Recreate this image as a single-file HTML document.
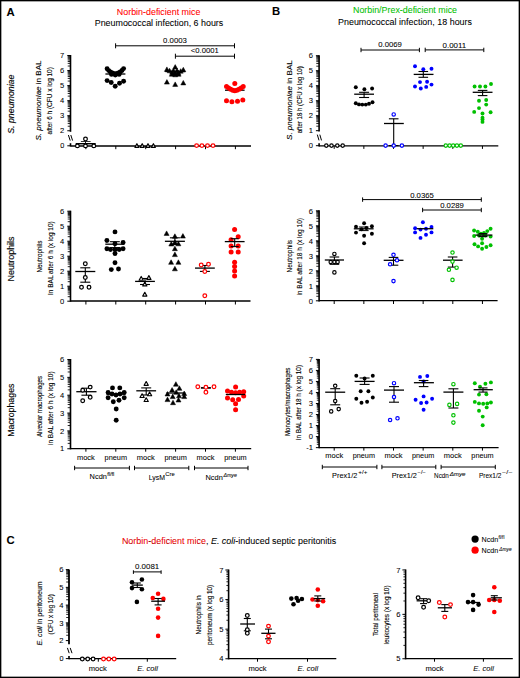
<!DOCTYPE html>
<html><head><meta charset="utf-8"><style>
html,body{margin:0;padding:0;background:#fff;}
svg{display:block;font-family:"Liberation Sans",sans-serif;}
</style></head><body>
<svg width="520" height="678" viewBox="0 0 520 678">
<rect width="520" height="678" fill="#fff"/>
<rect x="0" y="0" width="520" height="1" fill="#000"/>
<rect x="0" y="1" width="520" height="1" fill="#000" fill-opacity="0.35"/>
<rect x="0" y="0" width="1" height="678" fill="#000"/>
<rect x="1" y="0" width="1" height="678" fill="#000" fill-opacity="0.35"/>
<rect x="519" y="0" width="1" height="678" fill="#000"/>
<rect x="518" y="0" width="1" height="678" fill="#000" fill-opacity="0.35"/>
<rect x="0" y="677" width="520" height="1" fill="#000"/>
<rect x="0" y="676" width="520" height="1" fill="#000" fill-opacity="0.35"/>
<text x="6.60" y="15.60" font-size="11.3" font-weight="bold" fill="#000" stroke="#000" stroke-width="0.06">A</text>
<text x="272.10" y="14.70" font-size="11.3" font-weight="bold" fill="#000" stroke="#000" stroke-width="0.06">B</text>
<text x="6.60" y="543.60" font-size="11.3" font-weight="bold" fill="#000" stroke="#000" stroke-width="0.06">C</text>
<text x="158.60" y="14.80" font-size="8.9" text-anchor="middle" textLength="83.50" lengthAdjust="spacingAndGlyphs" fill="#ff0000" stroke="#ff0000" stroke-width="0.06">Norbin-deficient mice</text>
<text x="159.00" y="25.60" font-size="8.9" text-anchor="middle" textLength="128.50" lengthAdjust="spacingAndGlyphs" fill="#000" stroke="#000" stroke-width="0.06">Pneumococcal infection, 6 hours</text>
<text x="405.00" y="13.30" font-size="8.9" text-anchor="middle" textLength="104.00" lengthAdjust="spacingAndGlyphs" fill="#00c000" stroke="#00c000" stroke-width="0.06">Norbin/Prex-deficient mice</text>
<text x="405.00" y="24.60" font-size="8.9" text-anchor="middle" textLength="134.00" lengthAdjust="spacingAndGlyphs" fill="#000" stroke="#000" stroke-width="0.06">Pneumococcal infection, 18 hours</text>
<text x="121.90" y="543.50" font-size="8.9" textLength="214.40" lengthAdjust="spacingAndGlyphs" fill="#000" stroke="#000" stroke-width="0.06"><tspan fill="#ff0000">Norbin-deficient mice</tspan>, <tspan font-style="italic">E. coli</tspan>-induced septic peritonitis</text>
<text x="13.90" y="104.20" font-size="8.9" text-anchor="middle" textLength="59.20" lengthAdjust="spacingAndGlyphs" transform="rotate(-90 13.90 104.20)" fill="#000" stroke="#000" stroke-width="0.14"><tspan font-style="italic">S. pneumoniae</tspan></text>
<text x="13.90" y="259.00" font-size="8.9" text-anchor="middle" textLength="45.00" lengthAdjust="spacingAndGlyphs" transform="rotate(-90 13.90 259.00)" fill="#000" stroke="#000" stroke-width="0.14">Neutrophils</text>
<text x="14.00" y="410.20" font-size="8.9" text-anchor="middle" textLength="53.20" lengthAdjust="spacingAndGlyphs" transform="rotate(-90 14.00 410.20)" fill="#000" stroke="#000" stroke-width="0.14">Macrophages</text>
<line x1="70.50" y1="55.00" x2="70.50" y2="131.80" stroke="#000" stroke-width="1.6"/>
<line x1="67.70" y1="126.22" x2="70.50" y2="126.22" stroke="#000" stroke-width="0.85"/>
<line x1="67.70" y1="123.57" x2="70.50" y2="123.57" stroke="#000" stroke-width="0.85"/>
<line x1="67.70" y1="121.69" x2="70.50" y2="121.69" stroke="#000" stroke-width="0.85"/>
<line x1="67.70" y1="120.23" x2="70.50" y2="120.23" stroke="#000" stroke-width="0.85"/>
<line x1="67.70" y1="119.04" x2="70.50" y2="119.04" stroke="#000" stroke-width="0.85"/>
<line x1="67.70" y1="118.03" x2="70.50" y2="118.03" stroke="#000" stroke-width="0.85"/>
<line x1="67.70" y1="117.16" x2="70.50" y2="117.16" stroke="#000" stroke-width="0.85"/>
<line x1="67.70" y1="116.39" x2="70.50" y2="116.39" stroke="#000" stroke-width="0.85"/>
<line x1="67.70" y1="111.17" x2="70.50" y2="111.17" stroke="#000" stroke-width="0.85"/>
<line x1="67.70" y1="108.52" x2="70.50" y2="108.52" stroke="#000" stroke-width="0.85"/>
<line x1="67.70" y1="106.64" x2="70.50" y2="106.64" stroke="#000" stroke-width="0.85"/>
<line x1="67.70" y1="105.18" x2="70.50" y2="105.18" stroke="#000" stroke-width="0.85"/>
<line x1="67.70" y1="103.99" x2="70.50" y2="103.99" stroke="#000" stroke-width="0.85"/>
<line x1="67.70" y1="102.98" x2="70.50" y2="102.98" stroke="#000" stroke-width="0.85"/>
<line x1="67.70" y1="102.11" x2="70.50" y2="102.11" stroke="#000" stroke-width="0.85"/>
<line x1="67.70" y1="101.34" x2="70.50" y2="101.34" stroke="#000" stroke-width="0.85"/>
<line x1="67.70" y1="96.12" x2="70.50" y2="96.12" stroke="#000" stroke-width="0.85"/>
<line x1="67.70" y1="93.47" x2="70.50" y2="93.47" stroke="#000" stroke-width="0.85"/>
<line x1="67.70" y1="91.59" x2="70.50" y2="91.59" stroke="#000" stroke-width="0.85"/>
<line x1="67.70" y1="90.13" x2="70.50" y2="90.13" stroke="#000" stroke-width="0.85"/>
<line x1="67.70" y1="88.94" x2="70.50" y2="88.94" stroke="#000" stroke-width="0.85"/>
<line x1="67.70" y1="87.93" x2="70.50" y2="87.93" stroke="#000" stroke-width="0.85"/>
<line x1="67.70" y1="87.06" x2="70.50" y2="87.06" stroke="#000" stroke-width="0.85"/>
<line x1="67.70" y1="86.29" x2="70.50" y2="86.29" stroke="#000" stroke-width="0.85"/>
<line x1="67.70" y1="81.07" x2="70.50" y2="81.07" stroke="#000" stroke-width="0.85"/>
<line x1="67.70" y1="78.42" x2="70.50" y2="78.42" stroke="#000" stroke-width="0.85"/>
<line x1="67.70" y1="76.54" x2="70.50" y2="76.54" stroke="#000" stroke-width="0.85"/>
<line x1="67.70" y1="75.08" x2="70.50" y2="75.08" stroke="#000" stroke-width="0.85"/>
<line x1="67.70" y1="73.89" x2="70.50" y2="73.89" stroke="#000" stroke-width="0.85"/>
<line x1="67.70" y1="72.88" x2="70.50" y2="72.88" stroke="#000" stroke-width="0.85"/>
<line x1="67.70" y1="72.01" x2="70.50" y2="72.01" stroke="#000" stroke-width="0.85"/>
<line x1="67.70" y1="71.24" x2="70.50" y2="71.24" stroke="#000" stroke-width="0.85"/>
<line x1="67.70" y1="66.02" x2="70.50" y2="66.02" stroke="#000" stroke-width="0.85"/>
<line x1="67.70" y1="63.37" x2="70.50" y2="63.37" stroke="#000" stroke-width="0.85"/>
<line x1="67.70" y1="61.49" x2="70.50" y2="61.49" stroke="#000" stroke-width="0.85"/>
<line x1="67.70" y1="60.03" x2="70.50" y2="60.03" stroke="#000" stroke-width="0.85"/>
<line x1="67.70" y1="58.84" x2="70.50" y2="58.84" stroke="#000" stroke-width="0.85"/>
<line x1="67.70" y1="57.83" x2="70.50" y2="57.83" stroke="#000" stroke-width="0.85"/>
<line x1="67.70" y1="56.96" x2="70.50" y2="56.96" stroke="#000" stroke-width="0.85"/>
<line x1="67.70" y1="56.19" x2="70.50" y2="56.19" stroke="#000" stroke-width="0.85"/>
<line x1="67.30" y1="130.75" x2="70.50" y2="130.75" stroke="#000" stroke-width="1.0"/>
<line x1="67.30" y1="115.70" x2="70.50" y2="115.70" stroke="#000" stroke-width="1.0"/>
<line x1="67.30" y1="100.65" x2="70.50" y2="100.65" stroke="#000" stroke-width="1.0"/>
<line x1="67.30" y1="85.60" x2="70.50" y2="85.60" stroke="#000" stroke-width="1.0"/>
<line x1="67.30" y1="70.55" x2="70.50" y2="70.55" stroke="#000" stroke-width="1.0"/>
<line x1="67.30" y1="55.50" x2="70.50" y2="55.50" stroke="#000" stroke-width="1.0"/>
<line x1="70.50" y1="143.20" x2="70.50" y2="146.50" stroke="#000" stroke-width="1.6"/>
<line x1="67.30" y1="145.80" x2="70.50" y2="145.80" stroke="#000" stroke-width="1.0"/>
<line x1="68.40" y1="135.00" x2="70.20" y2="140.60" stroke="#000" stroke-width="1.0"/>
<line x1="70.80" y1="135.00" x2="72.60" y2="140.60" stroke="#000" stroke-width="1.0"/>
<text x="64.30" y="133.49" font-size="7.6" text-anchor="end" fill="#000" stroke="#000" stroke-width="0.06">2</text>
<text x="64.30" y="118.44" font-size="7.6" text-anchor="end" fill="#000" stroke="#000" stroke-width="0.06">3</text>
<text x="64.30" y="103.39" font-size="7.6" text-anchor="end" fill="#000" stroke="#000" stroke-width="0.06">4</text>
<text x="64.30" y="88.34" font-size="7.6" text-anchor="end" fill="#000" stroke="#000" stroke-width="0.06">5</text>
<text x="64.30" y="73.29" font-size="7.6" text-anchor="end" fill="#000" stroke="#000" stroke-width="0.06">6</text>
<text x="64.30" y="58.24" font-size="7.6" text-anchor="end" fill="#000" stroke="#000" stroke-width="0.06">7</text>
<text x="64.30" y="148.43" font-size="7.3" text-anchor="end" fill="#000" stroke="#000" stroke-width="0.06">0</text>
<line x1="70.50" y1="146.00" x2="251.00" y2="146.00" stroke="#000" stroke-width="1.3"/>
<line x1="85.90" y1="146.00" x2="85.90" y2="149.20" stroke="#000" stroke-width="1.0"/>
<line x1="115.80" y1="146.00" x2="115.80" y2="149.20" stroke="#000" stroke-width="1.0"/>
<line x1="145.70" y1="146.00" x2="145.70" y2="149.20" stroke="#000" stroke-width="1.0"/>
<line x1="175.60" y1="146.00" x2="175.60" y2="149.20" stroke="#000" stroke-width="1.0"/>
<line x1="205.50" y1="146.00" x2="205.50" y2="149.20" stroke="#000" stroke-width="1.0"/>
<line x1="235.40" y1="146.00" x2="235.40" y2="149.20" stroke="#000" stroke-width="1.0"/>
<text x="41.30" y="100.50" font-size="8.0" text-anchor="middle" textLength="80.00" lengthAdjust="spacingAndGlyphs" transform="rotate(-90 41.30 100.50)" fill="#000" stroke="#000" stroke-width="0.12"><tspan font-style="italic">S. pneumoniae</tspan> in BAL</text>
<text x="52.40" y="100.80" font-size="8.0" text-anchor="middle" textLength="67.30" lengthAdjust="spacingAndGlyphs" transform="rotate(-90 52.40 100.80)" fill="#000" stroke="#000" stroke-width="0.12">after 6 h (CFU x log 10)</text>
<line x1="115.60" y1="45.80" x2="234.50" y2="45.80" stroke="#000" stroke-width="1.0"/>
<line x1="115.60" y1="43.30" x2="115.60" y2="48.30" stroke="#000" stroke-width="1.0"/>
<line x1="234.50" y1="43.30" x2="234.50" y2="48.30" stroke="#000" stroke-width="1.0"/>
<text x="175.00" y="42.60" font-size="7.8" text-anchor="middle" textLength="23.80" lengthAdjust="spacingAndGlyphs" fill="#000" stroke="#000" stroke-width="0.06">0.0003</text>
<line x1="175.40" y1="56.20" x2="234.50" y2="56.20" stroke="#000" stroke-width="1.0"/>
<line x1="175.40" y1="53.70" x2="175.40" y2="58.70" stroke="#000" stroke-width="1.0"/>
<line x1="234.50" y1="53.70" x2="234.50" y2="58.70" stroke="#000" stroke-width="1.0"/>
<text x="204.80" y="53.20" font-size="7.8" text-anchor="middle" textLength="28.00" lengthAdjust="spacingAndGlyphs" fill="#000" stroke="#000" stroke-width="0.06">&lt;0.0001</text>
<line x1="70.50" y1="210.70" x2="70.50" y2="301.80" stroke="#000" stroke-width="1.6"/>
<line x1="67.70" y1="296.68" x2="70.50" y2="296.68" stroke="#000" stroke-width="0.85"/>
<line x1="67.70" y1="294.04" x2="70.50" y2="294.04" stroke="#000" stroke-width="0.85"/>
<line x1="67.70" y1="292.17" x2="70.50" y2="292.17" stroke="#000" stroke-width="0.85"/>
<line x1="67.70" y1="290.72" x2="70.50" y2="290.72" stroke="#000" stroke-width="0.85"/>
<line x1="67.70" y1="289.53" x2="70.50" y2="289.53" stroke="#000" stroke-width="0.85"/>
<line x1="67.70" y1="288.52" x2="70.50" y2="288.52" stroke="#000" stroke-width="0.85"/>
<line x1="67.70" y1="287.65" x2="70.50" y2="287.65" stroke="#000" stroke-width="0.85"/>
<line x1="67.70" y1="286.89" x2="70.50" y2="286.89" stroke="#000" stroke-width="0.85"/>
<line x1="67.70" y1="281.68" x2="70.50" y2="281.68" stroke="#000" stroke-width="0.85"/>
<line x1="67.70" y1="279.04" x2="70.50" y2="279.04" stroke="#000" stroke-width="0.85"/>
<line x1="67.70" y1="277.17" x2="70.50" y2="277.17" stroke="#000" stroke-width="0.85"/>
<line x1="67.70" y1="275.72" x2="70.50" y2="275.72" stroke="#000" stroke-width="0.85"/>
<line x1="67.70" y1="274.53" x2="70.50" y2="274.53" stroke="#000" stroke-width="0.85"/>
<line x1="67.70" y1="273.52" x2="70.50" y2="273.52" stroke="#000" stroke-width="0.85"/>
<line x1="67.70" y1="272.65" x2="70.50" y2="272.65" stroke="#000" stroke-width="0.85"/>
<line x1="67.70" y1="271.89" x2="70.50" y2="271.89" stroke="#000" stroke-width="0.85"/>
<line x1="67.70" y1="266.68" x2="70.50" y2="266.68" stroke="#000" stroke-width="0.85"/>
<line x1="67.70" y1="264.04" x2="70.50" y2="264.04" stroke="#000" stroke-width="0.85"/>
<line x1="67.70" y1="262.17" x2="70.50" y2="262.17" stroke="#000" stroke-width="0.85"/>
<line x1="67.70" y1="260.72" x2="70.50" y2="260.72" stroke="#000" stroke-width="0.85"/>
<line x1="67.70" y1="259.53" x2="70.50" y2="259.53" stroke="#000" stroke-width="0.85"/>
<line x1="67.70" y1="258.52" x2="70.50" y2="258.52" stroke="#000" stroke-width="0.85"/>
<line x1="67.70" y1="257.65" x2="70.50" y2="257.65" stroke="#000" stroke-width="0.85"/>
<line x1="67.70" y1="256.89" x2="70.50" y2="256.89" stroke="#000" stroke-width="0.85"/>
<line x1="67.70" y1="251.68" x2="70.50" y2="251.68" stroke="#000" stroke-width="0.85"/>
<line x1="67.70" y1="249.04" x2="70.50" y2="249.04" stroke="#000" stroke-width="0.85"/>
<line x1="67.70" y1="247.17" x2="70.50" y2="247.17" stroke="#000" stroke-width="0.85"/>
<line x1="67.70" y1="245.72" x2="70.50" y2="245.72" stroke="#000" stroke-width="0.85"/>
<line x1="67.70" y1="244.53" x2="70.50" y2="244.53" stroke="#000" stroke-width="0.85"/>
<line x1="67.70" y1="243.52" x2="70.50" y2="243.52" stroke="#000" stroke-width="0.85"/>
<line x1="67.70" y1="242.65" x2="70.50" y2="242.65" stroke="#000" stroke-width="0.85"/>
<line x1="67.70" y1="241.89" x2="70.50" y2="241.89" stroke="#000" stroke-width="0.85"/>
<line x1="67.70" y1="236.68" x2="70.50" y2="236.68" stroke="#000" stroke-width="0.85"/>
<line x1="67.70" y1="234.04" x2="70.50" y2="234.04" stroke="#000" stroke-width="0.85"/>
<line x1="67.70" y1="232.17" x2="70.50" y2="232.17" stroke="#000" stroke-width="0.85"/>
<line x1="67.70" y1="230.72" x2="70.50" y2="230.72" stroke="#000" stroke-width="0.85"/>
<line x1="67.70" y1="229.53" x2="70.50" y2="229.53" stroke="#000" stroke-width="0.85"/>
<line x1="67.70" y1="228.52" x2="70.50" y2="228.52" stroke="#000" stroke-width="0.85"/>
<line x1="67.70" y1="227.65" x2="70.50" y2="227.65" stroke="#000" stroke-width="0.85"/>
<line x1="67.70" y1="226.89" x2="70.50" y2="226.89" stroke="#000" stroke-width="0.85"/>
<line x1="67.70" y1="221.68" x2="70.50" y2="221.68" stroke="#000" stroke-width="0.85"/>
<line x1="67.70" y1="219.04" x2="70.50" y2="219.04" stroke="#000" stroke-width="0.85"/>
<line x1="67.70" y1="217.17" x2="70.50" y2="217.17" stroke="#000" stroke-width="0.85"/>
<line x1="67.70" y1="215.72" x2="70.50" y2="215.72" stroke="#000" stroke-width="0.85"/>
<line x1="67.70" y1="214.53" x2="70.50" y2="214.53" stroke="#000" stroke-width="0.85"/>
<line x1="67.70" y1="213.52" x2="70.50" y2="213.52" stroke="#000" stroke-width="0.85"/>
<line x1="67.70" y1="212.65" x2="70.50" y2="212.65" stroke="#000" stroke-width="0.85"/>
<line x1="67.70" y1="211.89" x2="70.50" y2="211.89" stroke="#000" stroke-width="0.85"/>
<line x1="67.30" y1="301.20" x2="70.50" y2="301.20" stroke="#000" stroke-width="1.0"/>
<line x1="67.30" y1="286.20" x2="70.50" y2="286.20" stroke="#000" stroke-width="1.0"/>
<line x1="67.30" y1="271.20" x2="70.50" y2="271.20" stroke="#000" stroke-width="1.0"/>
<line x1="67.30" y1="256.20" x2="70.50" y2="256.20" stroke="#000" stroke-width="1.0"/>
<line x1="67.30" y1="241.20" x2="70.50" y2="241.20" stroke="#000" stroke-width="1.0"/>
<line x1="67.30" y1="226.20" x2="70.50" y2="226.20" stroke="#000" stroke-width="1.0"/>
<line x1="67.30" y1="211.20" x2="70.50" y2="211.20" stroke="#000" stroke-width="1.0"/>
<text x="64.30" y="303.94" font-size="7.6" text-anchor="end" fill="#000" stroke="#000" stroke-width="0.06">0</text>
<text x="64.30" y="288.94" font-size="7.6" text-anchor="end" fill="#000" stroke="#000" stroke-width="0.06">1</text>
<text x="64.30" y="273.94" font-size="7.6" text-anchor="end" fill="#000" stroke="#000" stroke-width="0.06">2</text>
<text x="64.30" y="258.94" font-size="7.6" text-anchor="end" fill="#000" stroke="#000" stroke-width="0.06">3</text>
<text x="64.30" y="243.94" font-size="7.6" text-anchor="end" fill="#000" stroke="#000" stroke-width="0.06">4</text>
<text x="64.30" y="228.94" font-size="7.6" text-anchor="end" fill="#000" stroke="#000" stroke-width="0.06">5</text>
<text x="64.30" y="213.94" font-size="7.6" text-anchor="end" fill="#000" stroke="#000" stroke-width="0.06">6</text>
<line x1="70.50" y1="301.00" x2="250.50" y2="301.00" stroke="#000" stroke-width="1.3"/>
<line x1="85.90" y1="301.00" x2="85.90" y2="304.50" stroke="#000" stroke-width="1.0"/>
<line x1="115.80" y1="301.00" x2="115.80" y2="304.50" stroke="#000" stroke-width="1.0"/>
<line x1="145.70" y1="301.00" x2="145.70" y2="304.50" stroke="#000" stroke-width="1.0"/>
<line x1="175.60" y1="301.00" x2="175.60" y2="304.50" stroke="#000" stroke-width="1.0"/>
<line x1="205.50" y1="301.00" x2="205.50" y2="304.50" stroke="#000" stroke-width="1.0"/>
<line x1="235.40" y1="301.00" x2="235.40" y2="304.50" stroke="#000" stroke-width="1.0"/>
<text x="41.50" y="256.50" font-size="8.0" text-anchor="middle" textLength="31.90" lengthAdjust="spacingAndGlyphs" transform="rotate(-90 41.50 256.50)" fill="#000" stroke="#000" stroke-width="0.12">Neutrophils</text>
<text x="53.40" y="258.10" font-size="8.0" text-anchor="middle" textLength="73.70" lengthAdjust="spacingAndGlyphs" transform="rotate(-90 53.40 258.10)" fill="#000" stroke="#000" stroke-width="0.12">In BAL after 6 h (x log 10)</text>
<line x1="70.50" y1="359.00" x2="70.50" y2="449.35" stroke="#000" stroke-width="1.6"/>
<line x1="67.70" y1="443.38" x2="70.50" y2="443.38" stroke="#000" stroke-width="0.85"/>
<line x1="67.70" y1="440.23" x2="70.50" y2="440.23" stroke="#000" stroke-width="0.85"/>
<line x1="67.70" y1="438.00" x2="70.50" y2="438.00" stroke="#000" stroke-width="0.85"/>
<line x1="67.70" y1="436.27" x2="70.50" y2="436.27" stroke="#000" stroke-width="0.85"/>
<line x1="67.70" y1="434.86" x2="70.50" y2="434.86" stroke="#000" stroke-width="0.85"/>
<line x1="67.70" y1="433.66" x2="70.50" y2="433.66" stroke="#000" stroke-width="0.85"/>
<line x1="67.70" y1="432.63" x2="70.50" y2="432.63" stroke="#000" stroke-width="0.85"/>
<line x1="67.70" y1="431.72" x2="70.50" y2="431.72" stroke="#000" stroke-width="0.85"/>
<line x1="67.70" y1="425.53" x2="70.50" y2="425.53" stroke="#000" stroke-width="0.85"/>
<line x1="67.70" y1="422.38" x2="70.50" y2="422.38" stroke="#000" stroke-width="0.85"/>
<line x1="67.70" y1="420.15" x2="70.50" y2="420.15" stroke="#000" stroke-width="0.85"/>
<line x1="67.70" y1="418.42" x2="70.50" y2="418.42" stroke="#000" stroke-width="0.85"/>
<line x1="67.70" y1="417.01" x2="70.50" y2="417.01" stroke="#000" stroke-width="0.85"/>
<line x1="67.70" y1="415.81" x2="70.50" y2="415.81" stroke="#000" stroke-width="0.85"/>
<line x1="67.70" y1="414.78" x2="70.50" y2="414.78" stroke="#000" stroke-width="0.85"/>
<line x1="67.70" y1="413.87" x2="70.50" y2="413.87" stroke="#000" stroke-width="0.85"/>
<line x1="67.70" y1="407.68" x2="70.50" y2="407.68" stroke="#000" stroke-width="0.85"/>
<line x1="67.70" y1="404.53" x2="70.50" y2="404.53" stroke="#000" stroke-width="0.85"/>
<line x1="67.70" y1="402.30" x2="70.50" y2="402.30" stroke="#000" stroke-width="0.85"/>
<line x1="67.70" y1="400.57" x2="70.50" y2="400.57" stroke="#000" stroke-width="0.85"/>
<line x1="67.70" y1="399.16" x2="70.50" y2="399.16" stroke="#000" stroke-width="0.85"/>
<line x1="67.70" y1="397.96" x2="70.50" y2="397.96" stroke="#000" stroke-width="0.85"/>
<line x1="67.70" y1="396.93" x2="70.50" y2="396.93" stroke="#000" stroke-width="0.85"/>
<line x1="67.70" y1="396.02" x2="70.50" y2="396.02" stroke="#000" stroke-width="0.85"/>
<line x1="67.70" y1="389.83" x2="70.50" y2="389.83" stroke="#000" stroke-width="0.85"/>
<line x1="67.70" y1="386.68" x2="70.50" y2="386.68" stroke="#000" stroke-width="0.85"/>
<line x1="67.70" y1="384.45" x2="70.50" y2="384.45" stroke="#000" stroke-width="0.85"/>
<line x1="67.70" y1="382.72" x2="70.50" y2="382.72" stroke="#000" stroke-width="0.85"/>
<line x1="67.70" y1="381.31" x2="70.50" y2="381.31" stroke="#000" stroke-width="0.85"/>
<line x1="67.70" y1="380.11" x2="70.50" y2="380.11" stroke="#000" stroke-width="0.85"/>
<line x1="67.70" y1="379.08" x2="70.50" y2="379.08" stroke="#000" stroke-width="0.85"/>
<line x1="67.70" y1="378.17" x2="70.50" y2="378.17" stroke="#000" stroke-width="0.85"/>
<line x1="67.70" y1="371.98" x2="70.50" y2="371.98" stroke="#000" stroke-width="0.85"/>
<line x1="67.70" y1="368.83" x2="70.50" y2="368.83" stroke="#000" stroke-width="0.85"/>
<line x1="67.70" y1="366.60" x2="70.50" y2="366.60" stroke="#000" stroke-width="0.85"/>
<line x1="67.70" y1="364.87" x2="70.50" y2="364.87" stroke="#000" stroke-width="0.85"/>
<line x1="67.70" y1="363.46" x2="70.50" y2="363.46" stroke="#000" stroke-width="0.85"/>
<line x1="67.70" y1="362.26" x2="70.50" y2="362.26" stroke="#000" stroke-width="0.85"/>
<line x1="67.70" y1="361.23" x2="70.50" y2="361.23" stroke="#000" stroke-width="0.85"/>
<line x1="67.70" y1="360.32" x2="70.50" y2="360.32" stroke="#000" stroke-width="0.85"/>
<line x1="67.30" y1="448.75" x2="70.50" y2="448.75" stroke="#000" stroke-width="1.0"/>
<line x1="67.30" y1="430.90" x2="70.50" y2="430.90" stroke="#000" stroke-width="1.0"/>
<line x1="67.30" y1="413.05" x2="70.50" y2="413.05" stroke="#000" stroke-width="1.0"/>
<line x1="67.30" y1="395.20" x2="70.50" y2="395.20" stroke="#000" stroke-width="1.0"/>
<line x1="67.30" y1="377.35" x2="70.50" y2="377.35" stroke="#000" stroke-width="1.0"/>
<line x1="67.30" y1="359.50" x2="70.50" y2="359.50" stroke="#000" stroke-width="1.0"/>
<text x="64.30" y="451.49" font-size="7.6" text-anchor="end" fill="#000" stroke="#000" stroke-width="0.06">1</text>
<text x="64.30" y="433.64" font-size="7.6" text-anchor="end" fill="#000" stroke="#000" stroke-width="0.06">2</text>
<text x="64.30" y="415.79" font-size="7.6" text-anchor="end" fill="#000" stroke="#000" stroke-width="0.06">3</text>
<text x="64.30" y="397.94" font-size="7.6" text-anchor="end" fill="#000" stroke="#000" stroke-width="0.06">4</text>
<text x="64.30" y="380.09" font-size="7.6" text-anchor="end" fill="#000" stroke="#000" stroke-width="0.06">5</text>
<text x="64.30" y="362.24" font-size="7.6" text-anchor="end" fill="#000" stroke="#000" stroke-width="0.06">6</text>
<line x1="70.50" y1="448.70" x2="251.20" y2="448.70" stroke="#000" stroke-width="1.3"/>
<line x1="85.90" y1="448.70" x2="85.90" y2="451.70" stroke="#000" stroke-width="1.0"/>
<line x1="115.80" y1="448.70" x2="115.80" y2="451.70" stroke="#000" stroke-width="1.0"/>
<line x1="145.70" y1="448.70" x2="145.70" y2="451.70" stroke="#000" stroke-width="1.0"/>
<line x1="175.60" y1="448.70" x2="175.60" y2="451.70" stroke="#000" stroke-width="1.0"/>
<line x1="205.50" y1="448.70" x2="205.50" y2="451.70" stroke="#000" stroke-width="1.0"/>
<line x1="235.40" y1="448.70" x2="235.40" y2="451.70" stroke="#000" stroke-width="1.0"/>
<text x="41.80" y="406.50" font-size="8.0" text-anchor="middle" textLength="61.10" lengthAdjust="spacingAndGlyphs" transform="rotate(-90 41.80 406.50)" fill="#000" stroke="#000" stroke-width="0.12">Alveolar macrophages</text>
<text x="53.40" y="408.20" font-size="8.0" text-anchor="middle" textLength="73.70" lengthAdjust="spacingAndGlyphs" transform="rotate(-90 53.40 408.20)" fill="#000" stroke="#000" stroke-width="0.12">in BAL after 6 h (x log 10)</text>
<text x="85.90" y="459.60" font-size="7.3" text-anchor="middle" textLength="17.90" lengthAdjust="spacingAndGlyphs" fill="#000" stroke="#000" stroke-width="0.06">mock</text>
<text x="115.80" y="459.60" font-size="7.3" text-anchor="middle" textLength="22.40" lengthAdjust="spacingAndGlyphs" fill="#000" stroke="#000" stroke-width="0.06">pneum</text>
<text x="145.70" y="459.60" font-size="7.3" text-anchor="middle" textLength="17.90" lengthAdjust="spacingAndGlyphs" fill="#000" stroke="#000" stroke-width="0.06">mock</text>
<text x="175.60" y="459.60" font-size="7.3" text-anchor="middle" textLength="22.40" lengthAdjust="spacingAndGlyphs" fill="#000" stroke="#000" stroke-width="0.06">pneum</text>
<text x="205.50" y="459.60" font-size="7.3" text-anchor="middle" textLength="17.90" lengthAdjust="spacingAndGlyphs" fill="#000" stroke="#000" stroke-width="0.06">mock</text>
<text x="235.40" y="459.60" font-size="7.3" text-anchor="middle" textLength="22.40" lengthAdjust="spacingAndGlyphs" fill="#000" stroke="#000" stroke-width="0.06">pneum</text>
<line x1="74.60" y1="468.00" x2="129.40" y2="468.00" stroke="#000" stroke-width="1.0"/>
<line x1="74.60" y1="465.80" x2="74.60" y2="470.20" stroke="#000" stroke-width="1.0"/>
<line x1="129.40" y1="465.80" x2="129.40" y2="470.20" stroke="#000" stroke-width="1.0"/>
<line x1="134.50" y1="468.00" x2="188.80" y2="468.00" stroke="#000" stroke-width="1.0"/>
<line x1="134.50" y1="465.80" x2="134.50" y2="470.20" stroke="#000" stroke-width="1.0"/>
<line x1="188.80" y1="465.80" x2="188.80" y2="470.20" stroke="#000" stroke-width="1.0"/>
<line x1="194.50" y1="468.00" x2="248.00" y2="468.00" stroke="#000" stroke-width="1.0"/>
<line x1="194.50" y1="465.80" x2="194.50" y2="470.20" stroke="#000" stroke-width="1.0"/>
<line x1="248.00" y1="465.80" x2="248.00" y2="470.20" stroke="#000" stroke-width="1.0"/>
<text x="89.60" y="479.40" font-size="7.3" textLength="17.30" lengthAdjust="spacingAndGlyphs" fill="#000" stroke="#000" stroke-width="0.06">Ncdn</text>
<text x="107.20" y="475.60" font-size="4.8" textLength="7.20" lengthAdjust="spacingAndGlyphs" fill="#000" stroke="#000" stroke-width="0.06">fl/fl</text>
<text x="148.70" y="479.80" font-size="7.3" textLength="16.30" lengthAdjust="spacingAndGlyphs" fill="#000" stroke="#000" stroke-width="0.06">LysM</text>
<text x="165.20" y="475.60" font-size="4.8" textLength="9.50" lengthAdjust="spacingAndGlyphs" fill="#000" stroke="#000" stroke-width="0.06">Cre</text>
<text x="205.50" y="479.80" font-size="7.3" textLength="17.30" lengthAdjust="spacingAndGlyphs" fill="#000" stroke="#000" stroke-width="0.06">Ncdn</text>
<text x="223.40" y="477.00" font-size="4.6" font-style="italic" textLength="13.50" lengthAdjust="spacingAndGlyphs" fill="#000" stroke="#000" stroke-width="0.06">Δmye</text>
<line x1="319.10" y1="55.20" x2="319.10" y2="131.40" stroke="#000" stroke-width="1.6"/>
<line x1="316.30" y1="126.18" x2="319.10" y2="126.18" stroke="#000" stroke-width="0.85"/>
<line x1="316.30" y1="123.54" x2="319.10" y2="123.54" stroke="#000" stroke-width="0.85"/>
<line x1="316.30" y1="121.67" x2="319.10" y2="121.67" stroke="#000" stroke-width="0.85"/>
<line x1="316.30" y1="120.22" x2="319.10" y2="120.22" stroke="#000" stroke-width="0.85"/>
<line x1="316.30" y1="119.03" x2="319.10" y2="119.03" stroke="#000" stroke-width="0.85"/>
<line x1="316.30" y1="118.02" x2="319.10" y2="118.02" stroke="#000" stroke-width="0.85"/>
<line x1="316.30" y1="117.15" x2="319.10" y2="117.15" stroke="#000" stroke-width="0.85"/>
<line x1="316.30" y1="116.39" x2="319.10" y2="116.39" stroke="#000" stroke-width="0.85"/>
<line x1="316.30" y1="111.18" x2="319.10" y2="111.18" stroke="#000" stroke-width="0.85"/>
<line x1="316.30" y1="108.54" x2="319.10" y2="108.54" stroke="#000" stroke-width="0.85"/>
<line x1="316.30" y1="106.67" x2="319.10" y2="106.67" stroke="#000" stroke-width="0.85"/>
<line x1="316.30" y1="105.22" x2="319.10" y2="105.22" stroke="#000" stroke-width="0.85"/>
<line x1="316.30" y1="104.03" x2="319.10" y2="104.03" stroke="#000" stroke-width="0.85"/>
<line x1="316.30" y1="103.02" x2="319.10" y2="103.02" stroke="#000" stroke-width="0.85"/>
<line x1="316.30" y1="102.15" x2="319.10" y2="102.15" stroke="#000" stroke-width="0.85"/>
<line x1="316.30" y1="101.39" x2="319.10" y2="101.39" stroke="#000" stroke-width="0.85"/>
<line x1="316.30" y1="96.18" x2="319.10" y2="96.18" stroke="#000" stroke-width="0.85"/>
<line x1="316.30" y1="93.54" x2="319.10" y2="93.54" stroke="#000" stroke-width="0.85"/>
<line x1="316.30" y1="91.67" x2="319.10" y2="91.67" stroke="#000" stroke-width="0.85"/>
<line x1="316.30" y1="90.22" x2="319.10" y2="90.22" stroke="#000" stroke-width="0.85"/>
<line x1="316.30" y1="89.03" x2="319.10" y2="89.03" stroke="#000" stroke-width="0.85"/>
<line x1="316.30" y1="88.02" x2="319.10" y2="88.02" stroke="#000" stroke-width="0.85"/>
<line x1="316.30" y1="87.15" x2="319.10" y2="87.15" stroke="#000" stroke-width="0.85"/>
<line x1="316.30" y1="86.39" x2="319.10" y2="86.39" stroke="#000" stroke-width="0.85"/>
<line x1="316.30" y1="81.18" x2="319.10" y2="81.18" stroke="#000" stroke-width="0.85"/>
<line x1="316.30" y1="78.54" x2="319.10" y2="78.54" stroke="#000" stroke-width="0.85"/>
<line x1="316.30" y1="76.67" x2="319.10" y2="76.67" stroke="#000" stroke-width="0.85"/>
<line x1="316.30" y1="75.22" x2="319.10" y2="75.22" stroke="#000" stroke-width="0.85"/>
<line x1="316.30" y1="74.03" x2="319.10" y2="74.03" stroke="#000" stroke-width="0.85"/>
<line x1="316.30" y1="73.02" x2="319.10" y2="73.02" stroke="#000" stroke-width="0.85"/>
<line x1="316.30" y1="72.15" x2="319.10" y2="72.15" stroke="#000" stroke-width="0.85"/>
<line x1="316.30" y1="71.39" x2="319.10" y2="71.39" stroke="#000" stroke-width="0.85"/>
<line x1="316.30" y1="66.18" x2="319.10" y2="66.18" stroke="#000" stroke-width="0.85"/>
<line x1="316.30" y1="63.54" x2="319.10" y2="63.54" stroke="#000" stroke-width="0.85"/>
<line x1="316.30" y1="61.67" x2="319.10" y2="61.67" stroke="#000" stroke-width="0.85"/>
<line x1="316.30" y1="60.22" x2="319.10" y2="60.22" stroke="#000" stroke-width="0.85"/>
<line x1="316.30" y1="59.03" x2="319.10" y2="59.03" stroke="#000" stroke-width="0.85"/>
<line x1="316.30" y1="58.02" x2="319.10" y2="58.02" stroke="#000" stroke-width="0.85"/>
<line x1="316.30" y1="57.15" x2="319.10" y2="57.15" stroke="#000" stroke-width="0.85"/>
<line x1="316.30" y1="56.39" x2="319.10" y2="56.39" stroke="#000" stroke-width="0.85"/>
<line x1="315.90" y1="130.70" x2="319.10" y2="130.70" stroke="#000" stroke-width="1.0"/>
<line x1="315.90" y1="115.70" x2="319.10" y2="115.70" stroke="#000" stroke-width="1.0"/>
<line x1="315.90" y1="100.70" x2="319.10" y2="100.70" stroke="#000" stroke-width="1.0"/>
<line x1="315.90" y1="85.70" x2="319.10" y2="85.70" stroke="#000" stroke-width="1.0"/>
<line x1="315.90" y1="70.70" x2="319.10" y2="70.70" stroke="#000" stroke-width="1.0"/>
<line x1="315.90" y1="55.70" x2="319.10" y2="55.70" stroke="#000" stroke-width="1.0"/>
<line x1="319.10" y1="143.20" x2="319.10" y2="146.40" stroke="#000" stroke-width="1.6"/>
<line x1="315.90" y1="145.70" x2="319.10" y2="145.70" stroke="#000" stroke-width="1.0"/>
<line x1="317.30" y1="134.60" x2="319.00" y2="140.40" stroke="#000" stroke-width="1.0"/>
<line x1="319.80" y1="134.60" x2="321.50" y2="140.40" stroke="#000" stroke-width="1.0"/>
<text x="313.00" y="148.44" font-size="7.6" text-anchor="end" fill="#000" stroke="#000" stroke-width="0.06">0</text>
<text x="313.00" y="133.44" font-size="7.6" text-anchor="end" fill="#000" stroke="#000" stroke-width="0.06">1</text>
<text x="313.00" y="118.44" font-size="7.6" text-anchor="end" fill="#000" stroke="#000" stroke-width="0.06">2</text>
<text x="313.00" y="103.44" font-size="7.6" text-anchor="end" fill="#000" stroke="#000" stroke-width="0.06">3</text>
<text x="313.00" y="88.44" font-size="7.6" text-anchor="end" fill="#000" stroke="#000" stroke-width="0.06">4</text>
<text x="313.00" y="73.44" font-size="7.6" text-anchor="end" fill="#000" stroke="#000" stroke-width="0.06">5</text>
<text x="313.00" y="58.44" font-size="7.6" text-anchor="end" fill="#000" stroke="#000" stroke-width="0.06">6</text>
<line x1="319.10" y1="145.90" x2="498.30" y2="145.90" stroke="#000" stroke-width="1.3"/>
<line x1="334.20" y1="145.90" x2="334.20" y2="148.90" stroke="#000" stroke-width="1.0"/>
<line x1="363.85" y1="145.90" x2="363.85" y2="148.90" stroke="#000" stroke-width="1.0"/>
<line x1="393.50" y1="145.90" x2="393.50" y2="148.90" stroke="#000" stroke-width="1.0"/>
<line x1="423.15" y1="145.90" x2="423.15" y2="148.90" stroke="#000" stroke-width="1.0"/>
<line x1="452.80" y1="145.90" x2="452.80" y2="148.90" stroke="#000" stroke-width="1.0"/>
<line x1="482.45" y1="145.90" x2="482.45" y2="148.90" stroke="#000" stroke-width="1.0"/>
<text x="292.00" y="100.10" font-size="8.0" text-anchor="middle" textLength="79.70" lengthAdjust="spacingAndGlyphs" transform="rotate(-90 292.00 100.10)" fill="#000" stroke="#000" stroke-width="0.12"><tspan font-style="italic">S. pneumoniae</tspan> in BAL</text>
<text x="301.80" y="99.80" font-size="8.0" text-anchor="middle" textLength="67.00" lengthAdjust="spacingAndGlyphs" transform="rotate(-90 301.80 99.80)" fill="#000" stroke="#000" stroke-width="0.12">after 18 h (CFU x log 10)</text>
<line x1="361.00" y1="50.00" x2="419.40" y2="50.00" stroke="#000" stroke-width="1.0"/>
<line x1="361.00" y1="47.80" x2="361.00" y2="52.20" stroke="#000" stroke-width="1.0"/>
<line x1="419.40" y1="47.80" x2="419.40" y2="52.20" stroke="#000" stroke-width="1.0"/>
<text x="390.10" y="47.30" font-size="7.8" text-anchor="middle" textLength="23.60" lengthAdjust="spacingAndGlyphs" fill="#000" stroke="#000" stroke-width="0.06">0.0069</text>
<line x1="425.20" y1="49.90" x2="483.80" y2="49.90" stroke="#000" stroke-width="1.0"/>
<line x1="425.20" y1="47.70" x2="425.20" y2="52.10" stroke="#000" stroke-width="1.0"/>
<line x1="483.80" y1="47.70" x2="483.80" y2="52.10" stroke="#000" stroke-width="1.0"/>
<text x="454.40" y="47.50" font-size="7.8" text-anchor="middle" textLength="23.70" lengthAdjust="spacingAndGlyphs" fill="#000" stroke="#000" stroke-width="0.06">0.0011</text>
<line x1="319.10" y1="210.30" x2="319.10" y2="301.40" stroke="#000" stroke-width="1.6"/>
<line x1="316.30" y1="296.28" x2="319.10" y2="296.28" stroke="#000" stroke-width="0.85"/>
<line x1="316.30" y1="293.64" x2="319.10" y2="293.64" stroke="#000" stroke-width="0.85"/>
<line x1="316.30" y1="291.77" x2="319.10" y2="291.77" stroke="#000" stroke-width="0.85"/>
<line x1="316.30" y1="290.32" x2="319.10" y2="290.32" stroke="#000" stroke-width="0.85"/>
<line x1="316.30" y1="289.13" x2="319.10" y2="289.13" stroke="#000" stroke-width="0.85"/>
<line x1="316.30" y1="288.12" x2="319.10" y2="288.12" stroke="#000" stroke-width="0.85"/>
<line x1="316.30" y1="287.25" x2="319.10" y2="287.25" stroke="#000" stroke-width="0.85"/>
<line x1="316.30" y1="286.49" x2="319.10" y2="286.49" stroke="#000" stroke-width="0.85"/>
<line x1="316.30" y1="281.28" x2="319.10" y2="281.28" stroke="#000" stroke-width="0.85"/>
<line x1="316.30" y1="278.64" x2="319.10" y2="278.64" stroke="#000" stroke-width="0.85"/>
<line x1="316.30" y1="276.77" x2="319.10" y2="276.77" stroke="#000" stroke-width="0.85"/>
<line x1="316.30" y1="275.32" x2="319.10" y2="275.32" stroke="#000" stroke-width="0.85"/>
<line x1="316.30" y1="274.13" x2="319.10" y2="274.13" stroke="#000" stroke-width="0.85"/>
<line x1="316.30" y1="273.12" x2="319.10" y2="273.12" stroke="#000" stroke-width="0.85"/>
<line x1="316.30" y1="272.25" x2="319.10" y2="272.25" stroke="#000" stroke-width="0.85"/>
<line x1="316.30" y1="271.49" x2="319.10" y2="271.49" stroke="#000" stroke-width="0.85"/>
<line x1="316.30" y1="266.28" x2="319.10" y2="266.28" stroke="#000" stroke-width="0.85"/>
<line x1="316.30" y1="263.64" x2="319.10" y2="263.64" stroke="#000" stroke-width="0.85"/>
<line x1="316.30" y1="261.77" x2="319.10" y2="261.77" stroke="#000" stroke-width="0.85"/>
<line x1="316.30" y1="260.32" x2="319.10" y2="260.32" stroke="#000" stroke-width="0.85"/>
<line x1="316.30" y1="259.13" x2="319.10" y2="259.13" stroke="#000" stroke-width="0.85"/>
<line x1="316.30" y1="258.12" x2="319.10" y2="258.12" stroke="#000" stroke-width="0.85"/>
<line x1="316.30" y1="257.25" x2="319.10" y2="257.25" stroke="#000" stroke-width="0.85"/>
<line x1="316.30" y1="256.49" x2="319.10" y2="256.49" stroke="#000" stroke-width="0.85"/>
<line x1="316.30" y1="251.28" x2="319.10" y2="251.28" stroke="#000" stroke-width="0.85"/>
<line x1="316.30" y1="248.64" x2="319.10" y2="248.64" stroke="#000" stroke-width="0.85"/>
<line x1="316.30" y1="246.77" x2="319.10" y2="246.77" stroke="#000" stroke-width="0.85"/>
<line x1="316.30" y1="245.32" x2="319.10" y2="245.32" stroke="#000" stroke-width="0.85"/>
<line x1="316.30" y1="244.13" x2="319.10" y2="244.13" stroke="#000" stroke-width="0.85"/>
<line x1="316.30" y1="243.12" x2="319.10" y2="243.12" stroke="#000" stroke-width="0.85"/>
<line x1="316.30" y1="242.25" x2="319.10" y2="242.25" stroke="#000" stroke-width="0.85"/>
<line x1="316.30" y1="241.49" x2="319.10" y2="241.49" stroke="#000" stroke-width="0.85"/>
<line x1="316.30" y1="236.28" x2="319.10" y2="236.28" stroke="#000" stroke-width="0.85"/>
<line x1="316.30" y1="233.64" x2="319.10" y2="233.64" stroke="#000" stroke-width="0.85"/>
<line x1="316.30" y1="231.77" x2="319.10" y2="231.77" stroke="#000" stroke-width="0.85"/>
<line x1="316.30" y1="230.32" x2="319.10" y2="230.32" stroke="#000" stroke-width="0.85"/>
<line x1="316.30" y1="229.13" x2="319.10" y2="229.13" stroke="#000" stroke-width="0.85"/>
<line x1="316.30" y1="228.12" x2="319.10" y2="228.12" stroke="#000" stroke-width="0.85"/>
<line x1="316.30" y1="227.25" x2="319.10" y2="227.25" stroke="#000" stroke-width="0.85"/>
<line x1="316.30" y1="226.49" x2="319.10" y2="226.49" stroke="#000" stroke-width="0.85"/>
<line x1="316.30" y1="221.28" x2="319.10" y2="221.28" stroke="#000" stroke-width="0.85"/>
<line x1="316.30" y1="218.64" x2="319.10" y2="218.64" stroke="#000" stroke-width="0.85"/>
<line x1="316.30" y1="216.77" x2="319.10" y2="216.77" stroke="#000" stroke-width="0.85"/>
<line x1="316.30" y1="215.32" x2="319.10" y2="215.32" stroke="#000" stroke-width="0.85"/>
<line x1="316.30" y1="214.13" x2="319.10" y2="214.13" stroke="#000" stroke-width="0.85"/>
<line x1="316.30" y1="213.12" x2="319.10" y2="213.12" stroke="#000" stroke-width="0.85"/>
<line x1="316.30" y1="212.25" x2="319.10" y2="212.25" stroke="#000" stroke-width="0.85"/>
<line x1="316.30" y1="211.49" x2="319.10" y2="211.49" stroke="#000" stroke-width="0.85"/>
<line x1="315.90" y1="300.80" x2="319.10" y2="300.80" stroke="#000" stroke-width="1.0"/>
<line x1="315.90" y1="285.80" x2="319.10" y2="285.80" stroke="#000" stroke-width="1.0"/>
<line x1="315.90" y1="270.80" x2="319.10" y2="270.80" stroke="#000" stroke-width="1.0"/>
<line x1="315.90" y1="255.80" x2="319.10" y2="255.80" stroke="#000" stroke-width="1.0"/>
<line x1="315.90" y1="240.80" x2="319.10" y2="240.80" stroke="#000" stroke-width="1.0"/>
<line x1="315.90" y1="225.80" x2="319.10" y2="225.80" stroke="#000" stroke-width="1.0"/>
<line x1="315.90" y1="210.80" x2="319.10" y2="210.80" stroke="#000" stroke-width="1.0"/>
<text x="313.00" y="303.54" font-size="7.6" text-anchor="end" fill="#000" stroke="#000" stroke-width="0.06">0</text>
<text x="313.00" y="288.54" font-size="7.6" text-anchor="end" fill="#000" stroke="#000" stroke-width="0.06">1</text>
<text x="313.00" y="273.54" font-size="7.6" text-anchor="end" fill="#000" stroke="#000" stroke-width="0.06">2</text>
<text x="313.00" y="258.54" font-size="7.6" text-anchor="end" fill="#000" stroke="#000" stroke-width="0.06">3</text>
<text x="313.00" y="243.54" font-size="7.6" text-anchor="end" fill="#000" stroke="#000" stroke-width="0.06">4</text>
<text x="313.00" y="228.54" font-size="7.6" text-anchor="end" fill="#000" stroke="#000" stroke-width="0.06">5</text>
<text x="313.00" y="213.54" font-size="7.6" text-anchor="end" fill="#000" stroke="#000" stroke-width="0.06">6</text>
<line x1="319.10" y1="300.70" x2="497.60" y2="300.70" stroke="#000" stroke-width="1.3"/>
<line x1="334.20" y1="300.70" x2="334.20" y2="304.00" stroke="#000" stroke-width="1.0"/>
<line x1="363.85" y1="300.70" x2="363.85" y2="304.00" stroke="#000" stroke-width="1.0"/>
<line x1="393.50" y1="300.70" x2="393.50" y2="304.00" stroke="#000" stroke-width="1.0"/>
<line x1="423.15" y1="300.70" x2="423.15" y2="304.00" stroke="#000" stroke-width="1.0"/>
<line x1="452.80" y1="300.70" x2="452.80" y2="304.00" stroke="#000" stroke-width="1.0"/>
<line x1="482.45" y1="300.70" x2="482.45" y2="304.00" stroke="#000" stroke-width="1.0"/>
<text x="291.60" y="256.20" font-size="8.0" text-anchor="middle" textLength="32.50" lengthAdjust="spacingAndGlyphs" transform="rotate(-90 291.60 256.20)" fill="#000" stroke="#000" stroke-width="0.12">Neutrophils</text>
<text x="301.80" y="256.80" font-size="8.0" text-anchor="middle" textLength="77.60" lengthAdjust="spacingAndGlyphs" transform="rotate(-90 301.80 256.80)" fill="#000" stroke="#000" stroke-width="0.12">in BAL after 18 h (x log 10)</text>
<line x1="362.60" y1="199.60" x2="481.30" y2="199.60" stroke="#000" stroke-width="1.0"/>
<line x1="362.60" y1="197.40" x2="362.60" y2="201.80" stroke="#000" stroke-width="1.0"/>
<line x1="481.30" y1="197.40" x2="481.30" y2="201.80" stroke="#000" stroke-width="1.0"/>
<text x="422.00" y="197.90" font-size="7.8" text-anchor="middle" textLength="23.60" lengthAdjust="spacingAndGlyphs" fill="#000" stroke="#000" stroke-width="0.06">0.0365</text>
<line x1="422.60" y1="210.00" x2="481.30" y2="210.00" stroke="#000" stroke-width="1.0"/>
<line x1="422.60" y1="207.80" x2="422.60" y2="212.20" stroke="#000" stroke-width="1.0"/>
<line x1="481.30" y1="207.80" x2="481.30" y2="212.20" stroke="#000" stroke-width="1.0"/>
<text x="452.00" y="208.20" font-size="7.8" text-anchor="middle" textLength="23.60" lengthAdjust="spacingAndGlyphs" fill="#000" stroke="#000" stroke-width="0.06">0.0289</text>
<line x1="319.10" y1="358.89" x2="319.10" y2="448.23" stroke="#000" stroke-width="1.6"/>
<line x1="316.80" y1="444.31" x2="319.10" y2="444.31" stroke="#000" stroke-width="0.85"/>
<line x1="316.80" y1="442.37" x2="319.10" y2="442.37" stroke="#000" stroke-width="0.85"/>
<line x1="316.80" y1="440.99" x2="319.10" y2="440.99" stroke="#000" stroke-width="0.85"/>
<line x1="316.80" y1="439.92" x2="319.10" y2="439.92" stroke="#000" stroke-width="0.85"/>
<line x1="316.80" y1="439.05" x2="319.10" y2="439.05" stroke="#000" stroke-width="0.85"/>
<line x1="316.80" y1="438.31" x2="319.10" y2="438.31" stroke="#000" stroke-width="0.85"/>
<line x1="316.80" y1="437.67" x2="319.10" y2="437.67" stroke="#000" stroke-width="0.85"/>
<line x1="316.80" y1="437.10" x2="319.10" y2="437.10" stroke="#000" stroke-width="0.85"/>
<line x1="316.80" y1="433.28" x2="319.10" y2="433.28" stroke="#000" stroke-width="0.85"/>
<line x1="316.80" y1="431.34" x2="319.10" y2="431.34" stroke="#000" stroke-width="0.85"/>
<line x1="316.80" y1="429.96" x2="319.10" y2="429.96" stroke="#000" stroke-width="0.85"/>
<line x1="316.80" y1="428.89" x2="319.10" y2="428.89" stroke="#000" stroke-width="0.85"/>
<line x1="316.80" y1="428.02" x2="319.10" y2="428.02" stroke="#000" stroke-width="0.85"/>
<line x1="316.80" y1="427.28" x2="319.10" y2="427.28" stroke="#000" stroke-width="0.85"/>
<line x1="316.80" y1="426.64" x2="319.10" y2="426.64" stroke="#000" stroke-width="0.85"/>
<line x1="316.80" y1="426.07" x2="319.10" y2="426.07" stroke="#000" stroke-width="0.85"/>
<line x1="316.80" y1="422.25" x2="319.10" y2="422.25" stroke="#000" stroke-width="0.85"/>
<line x1="316.80" y1="420.31" x2="319.10" y2="420.31" stroke="#000" stroke-width="0.85"/>
<line x1="316.80" y1="418.93" x2="319.10" y2="418.93" stroke="#000" stroke-width="0.85"/>
<line x1="316.80" y1="417.86" x2="319.10" y2="417.86" stroke="#000" stroke-width="0.85"/>
<line x1="316.80" y1="416.99" x2="319.10" y2="416.99" stroke="#000" stroke-width="0.85"/>
<line x1="316.80" y1="416.25" x2="319.10" y2="416.25" stroke="#000" stroke-width="0.85"/>
<line x1="316.80" y1="415.61" x2="319.10" y2="415.61" stroke="#000" stroke-width="0.85"/>
<line x1="316.80" y1="415.04" x2="319.10" y2="415.04" stroke="#000" stroke-width="0.85"/>
<line x1="316.80" y1="411.22" x2="319.10" y2="411.22" stroke="#000" stroke-width="0.85"/>
<line x1="316.80" y1="409.28" x2="319.10" y2="409.28" stroke="#000" stroke-width="0.85"/>
<line x1="316.80" y1="407.90" x2="319.10" y2="407.90" stroke="#000" stroke-width="0.85"/>
<line x1="316.80" y1="406.83" x2="319.10" y2="406.83" stroke="#000" stroke-width="0.85"/>
<line x1="316.80" y1="405.96" x2="319.10" y2="405.96" stroke="#000" stroke-width="0.85"/>
<line x1="316.80" y1="405.22" x2="319.10" y2="405.22" stroke="#000" stroke-width="0.85"/>
<line x1="316.80" y1="404.58" x2="319.10" y2="404.58" stroke="#000" stroke-width="0.85"/>
<line x1="316.80" y1="404.01" x2="319.10" y2="404.01" stroke="#000" stroke-width="0.85"/>
<line x1="316.80" y1="400.19" x2="319.10" y2="400.19" stroke="#000" stroke-width="0.85"/>
<line x1="316.80" y1="398.25" x2="319.10" y2="398.25" stroke="#000" stroke-width="0.85"/>
<line x1="316.80" y1="396.87" x2="319.10" y2="396.87" stroke="#000" stroke-width="0.85"/>
<line x1="316.80" y1="395.80" x2="319.10" y2="395.80" stroke="#000" stroke-width="0.85"/>
<line x1="316.80" y1="394.93" x2="319.10" y2="394.93" stroke="#000" stroke-width="0.85"/>
<line x1="316.80" y1="394.19" x2="319.10" y2="394.19" stroke="#000" stroke-width="0.85"/>
<line x1="316.80" y1="393.55" x2="319.10" y2="393.55" stroke="#000" stroke-width="0.85"/>
<line x1="316.80" y1="392.98" x2="319.10" y2="392.98" stroke="#000" stroke-width="0.85"/>
<line x1="316.80" y1="389.16" x2="319.10" y2="389.16" stroke="#000" stroke-width="0.85"/>
<line x1="316.80" y1="387.22" x2="319.10" y2="387.22" stroke="#000" stroke-width="0.85"/>
<line x1="316.80" y1="385.84" x2="319.10" y2="385.84" stroke="#000" stroke-width="0.85"/>
<line x1="316.80" y1="384.77" x2="319.10" y2="384.77" stroke="#000" stroke-width="0.85"/>
<line x1="316.80" y1="383.90" x2="319.10" y2="383.90" stroke="#000" stroke-width="0.85"/>
<line x1="316.80" y1="383.16" x2="319.10" y2="383.16" stroke="#000" stroke-width="0.85"/>
<line x1="316.80" y1="382.52" x2="319.10" y2="382.52" stroke="#000" stroke-width="0.85"/>
<line x1="316.80" y1="381.95" x2="319.10" y2="381.95" stroke="#000" stroke-width="0.85"/>
<line x1="316.80" y1="378.13" x2="319.10" y2="378.13" stroke="#000" stroke-width="0.85"/>
<line x1="316.80" y1="376.19" x2="319.10" y2="376.19" stroke="#000" stroke-width="0.85"/>
<line x1="316.80" y1="374.81" x2="319.10" y2="374.81" stroke="#000" stroke-width="0.85"/>
<line x1="316.80" y1="373.74" x2="319.10" y2="373.74" stroke="#000" stroke-width="0.85"/>
<line x1="316.80" y1="372.87" x2="319.10" y2="372.87" stroke="#000" stroke-width="0.85"/>
<line x1="316.80" y1="372.13" x2="319.10" y2="372.13" stroke="#000" stroke-width="0.85"/>
<line x1="316.80" y1="371.49" x2="319.10" y2="371.49" stroke="#000" stroke-width="0.85"/>
<line x1="316.80" y1="370.92" x2="319.10" y2="370.92" stroke="#000" stroke-width="0.85"/>
<line x1="316.80" y1="367.10" x2="319.10" y2="367.10" stroke="#000" stroke-width="0.85"/>
<line x1="316.80" y1="365.16" x2="319.10" y2="365.16" stroke="#000" stroke-width="0.85"/>
<line x1="316.80" y1="363.78" x2="319.10" y2="363.78" stroke="#000" stroke-width="0.85"/>
<line x1="316.80" y1="362.71" x2="319.10" y2="362.71" stroke="#000" stroke-width="0.85"/>
<line x1="316.80" y1="361.84" x2="319.10" y2="361.84" stroke="#000" stroke-width="0.85"/>
<line x1="316.80" y1="361.10" x2="319.10" y2="361.10" stroke="#000" stroke-width="0.85"/>
<line x1="316.80" y1="360.46" x2="319.10" y2="360.46" stroke="#000" stroke-width="0.85"/>
<line x1="316.80" y1="359.89" x2="319.10" y2="359.89" stroke="#000" stroke-width="0.85"/>
<line x1="315.90" y1="447.63" x2="319.10" y2="447.63" stroke="#000" stroke-width="1.0"/>
<line x1="315.90" y1="436.60" x2="319.10" y2="436.60" stroke="#000" stroke-width="1.0"/>
<line x1="315.90" y1="425.57" x2="319.10" y2="425.57" stroke="#000" stroke-width="1.0"/>
<line x1="315.90" y1="414.54" x2="319.10" y2="414.54" stroke="#000" stroke-width="1.0"/>
<line x1="315.90" y1="403.51" x2="319.10" y2="403.51" stroke="#000" stroke-width="1.0"/>
<line x1="315.90" y1="392.48" x2="319.10" y2="392.48" stroke="#000" stroke-width="1.0"/>
<line x1="315.90" y1="381.45" x2="319.10" y2="381.45" stroke="#000" stroke-width="1.0"/>
<line x1="315.90" y1="370.42" x2="319.10" y2="370.42" stroke="#000" stroke-width="1.0"/>
<line x1="315.90" y1="359.39" x2="319.10" y2="359.39" stroke="#000" stroke-width="1.0"/>
<text x="313.00" y="450.37" font-size="7.6" text-anchor="end" fill="#000" stroke="#000" stroke-width="0.06">-1</text>
<text x="313.00" y="439.34" font-size="7.6" text-anchor="end" fill="#000" stroke="#000" stroke-width="0.06">0</text>
<text x="313.00" y="428.31" font-size="7.6" text-anchor="end" fill="#000" stroke="#000" stroke-width="0.06">1</text>
<text x="313.00" y="417.28" font-size="7.6" text-anchor="end" fill="#000" stroke="#000" stroke-width="0.06">2</text>
<text x="313.00" y="406.25" font-size="7.6" text-anchor="end" fill="#000" stroke="#000" stroke-width="0.06">3</text>
<text x="313.00" y="395.22" font-size="7.6" text-anchor="end" fill="#000" stroke="#000" stroke-width="0.06">4</text>
<text x="313.00" y="384.19" font-size="7.6" text-anchor="end" fill="#000" stroke="#000" stroke-width="0.06">5</text>
<text x="313.00" y="373.16" font-size="7.6" text-anchor="end" fill="#000" stroke="#000" stroke-width="0.06">6</text>
<text x="313.00" y="362.13" font-size="7.6" text-anchor="end" fill="#000" stroke="#000" stroke-width="0.06">7</text>
<line x1="319.10" y1="447.60" x2="498.60" y2="447.60" stroke="#000" stroke-width="1.3"/>
<line x1="334.20" y1="447.60" x2="334.20" y2="450.60" stroke="#000" stroke-width="1.0"/>
<line x1="363.85" y1="447.60" x2="363.85" y2="450.60" stroke="#000" stroke-width="1.0"/>
<line x1="393.50" y1="447.60" x2="393.50" y2="450.60" stroke="#000" stroke-width="1.0"/>
<line x1="423.15" y1="447.60" x2="423.15" y2="450.60" stroke="#000" stroke-width="1.0"/>
<line x1="452.80" y1="447.60" x2="452.80" y2="450.60" stroke="#000" stroke-width="1.0"/>
<line x1="482.45" y1="447.60" x2="482.45" y2="450.60" stroke="#000" stroke-width="1.0"/>
<text x="290.20" y="401.80" font-size="8.0" text-anchor="middle" textLength="68.40" lengthAdjust="spacingAndGlyphs" transform="rotate(-90 290.20 401.80)" fill="#000" stroke="#000" stroke-width="0.12">Monocytes/macrophages</text>
<text x="301.20" y="402.50" font-size="8.0" text-anchor="middle" textLength="75.00" lengthAdjust="spacingAndGlyphs" transform="rotate(-90 301.20 402.50)" fill="#000" stroke="#000" stroke-width="0.12">in BAL after 18 h (x log 10)</text>
<text x="334.20" y="458.40" font-size="7.3" text-anchor="middle" textLength="17.90" lengthAdjust="spacingAndGlyphs" fill="#000" stroke="#000" stroke-width="0.06">mock</text>
<text x="363.85" y="458.40" font-size="7.3" text-anchor="middle" textLength="22.20" lengthAdjust="spacingAndGlyphs" fill="#000" stroke="#000" stroke-width="0.06">pneum</text>
<text x="393.50" y="458.40" font-size="7.3" text-anchor="middle" textLength="17.90" lengthAdjust="spacingAndGlyphs" fill="#000" stroke="#000" stroke-width="0.06">mock</text>
<text x="423.15" y="458.40" font-size="7.3" text-anchor="middle" textLength="22.20" lengthAdjust="spacingAndGlyphs" fill="#000" stroke="#000" stroke-width="0.06">pneum</text>
<text x="452.80" y="458.40" font-size="7.3" text-anchor="middle" textLength="17.90" lengthAdjust="spacingAndGlyphs" fill="#000" stroke="#000" stroke-width="0.06">mock</text>
<text x="482.45" y="458.40" font-size="7.3" text-anchor="middle" textLength="22.20" lengthAdjust="spacingAndGlyphs" fill="#000" stroke="#000" stroke-width="0.06">pneum</text>
<line x1="322.30" y1="467.00" x2="376.90" y2="467.00" stroke="#000" stroke-width="1.0"/>
<line x1="322.30" y1="464.80" x2="322.30" y2="469.20" stroke="#000" stroke-width="1.0"/>
<line x1="376.90" y1="464.80" x2="376.90" y2="469.20" stroke="#000" stroke-width="1.0"/>
<line x1="381.90" y1="467.00" x2="435.80" y2="467.00" stroke="#000" stroke-width="1.0"/>
<line x1="381.90" y1="464.80" x2="381.90" y2="469.20" stroke="#000" stroke-width="1.0"/>
<line x1="435.80" y1="464.80" x2="435.80" y2="469.20" stroke="#000" stroke-width="1.0"/>
<line x1="441.10" y1="467.00" x2="495.30" y2="467.00" stroke="#000" stroke-width="1.0"/>
<line x1="441.10" y1="464.80" x2="441.10" y2="469.20" stroke="#000" stroke-width="1.0"/>
<line x1="495.30" y1="464.80" x2="495.30" y2="469.20" stroke="#000" stroke-width="1.0"/>
<text x="332.10" y="477.60" font-size="7.3" textLength="25.20" lengthAdjust="spacingAndGlyphs" fill="#000" stroke="#000" stroke-width="0.06">Prex1/2</text>
<text x="358.30" y="473.80" font-size="4.8" textLength="9.00" lengthAdjust="spacingAndGlyphs" fill="#000" stroke="#000" stroke-width="0.06">+/+</text>
<text x="391.70" y="477.60" font-size="7.3" textLength="25.20" lengthAdjust="spacingAndGlyphs" fill="#000" stroke="#000" stroke-width="0.06">Prex1/2</text>
<text x="417.60" y="473.80" font-size="4.8" textLength="8.40" lengthAdjust="spacingAndGlyphs" fill="#000" stroke="#000" stroke-width="0.06">−/−</text>
<text x="434.10" y="477.60" font-size="7.3" textLength="14.70" lengthAdjust="spacingAndGlyphs" fill="#000" stroke="#000" stroke-width="0.06">Ncdn</text>
<text x="449.70" y="476.00" font-size="4.6" font-style="italic" textLength="15.90" lengthAdjust="spacingAndGlyphs" fill="#000" stroke="#000" stroke-width="0.06">Δmye</text>
<text x="478.90" y="477.60" font-size="7.3" textLength="22.50" lengthAdjust="spacingAndGlyphs" fill="#000" stroke="#000" stroke-width="0.06">Prex1/2</text>
<text x="502.00" y="473.80" font-size="4.8" textLength="10.70" lengthAdjust="spacingAndGlyphs" fill="#000" stroke="#000" stroke-width="0.06">−/−</text>
<line x1="69.00" y1="569.60" x2="69.00" y2="644.30" stroke="#000" stroke-width="1.8"/>
<line x1="66.20" y1="635.26" x2="69.00" y2="635.26" stroke="#000" stroke-width="0.85"/>
<line x1="66.20" y1="632.13" x2="69.00" y2="632.13" stroke="#000" stroke-width="0.85"/>
<line x1="66.20" y1="629.91" x2="69.00" y2="629.91" stroke="#000" stroke-width="0.85"/>
<line x1="66.20" y1="628.19" x2="69.00" y2="628.19" stroke="#000" stroke-width="0.85"/>
<line x1="66.20" y1="626.79" x2="69.00" y2="626.79" stroke="#000" stroke-width="0.85"/>
<line x1="66.20" y1="625.60" x2="69.00" y2="625.60" stroke="#000" stroke-width="0.85"/>
<line x1="66.20" y1="624.57" x2="69.00" y2="624.57" stroke="#000" stroke-width="0.85"/>
<line x1="66.20" y1="623.66" x2="69.00" y2="623.66" stroke="#000" stroke-width="0.85"/>
<line x1="66.20" y1="617.51" x2="69.00" y2="617.51" stroke="#000" stroke-width="0.85"/>
<line x1="66.20" y1="614.38" x2="69.00" y2="614.38" stroke="#000" stroke-width="0.85"/>
<line x1="66.20" y1="612.16" x2="69.00" y2="612.16" stroke="#000" stroke-width="0.85"/>
<line x1="66.20" y1="610.44" x2="69.00" y2="610.44" stroke="#000" stroke-width="0.85"/>
<line x1="66.20" y1="609.04" x2="69.00" y2="609.04" stroke="#000" stroke-width="0.85"/>
<line x1="66.20" y1="607.85" x2="69.00" y2="607.85" stroke="#000" stroke-width="0.85"/>
<line x1="66.20" y1="606.82" x2="69.00" y2="606.82" stroke="#000" stroke-width="0.85"/>
<line x1="66.20" y1="605.91" x2="69.00" y2="605.91" stroke="#000" stroke-width="0.85"/>
<line x1="66.20" y1="599.76" x2="69.00" y2="599.76" stroke="#000" stroke-width="0.85"/>
<line x1="66.20" y1="596.63" x2="69.00" y2="596.63" stroke="#000" stroke-width="0.85"/>
<line x1="66.20" y1="594.41" x2="69.00" y2="594.41" stroke="#000" stroke-width="0.85"/>
<line x1="66.20" y1="592.69" x2="69.00" y2="592.69" stroke="#000" stroke-width="0.85"/>
<line x1="66.20" y1="591.29" x2="69.00" y2="591.29" stroke="#000" stroke-width="0.85"/>
<line x1="66.20" y1="590.10" x2="69.00" y2="590.10" stroke="#000" stroke-width="0.85"/>
<line x1="66.20" y1="589.07" x2="69.00" y2="589.07" stroke="#000" stroke-width="0.85"/>
<line x1="66.20" y1="588.16" x2="69.00" y2="588.16" stroke="#000" stroke-width="0.85"/>
<line x1="66.20" y1="582.01" x2="69.00" y2="582.01" stroke="#000" stroke-width="0.85"/>
<line x1="66.20" y1="578.88" x2="69.00" y2="578.88" stroke="#000" stroke-width="0.85"/>
<line x1="66.20" y1="576.66" x2="69.00" y2="576.66" stroke="#000" stroke-width="0.85"/>
<line x1="66.20" y1="574.94" x2="69.00" y2="574.94" stroke="#000" stroke-width="0.85"/>
<line x1="66.20" y1="573.54" x2="69.00" y2="573.54" stroke="#000" stroke-width="0.85"/>
<line x1="66.20" y1="572.35" x2="69.00" y2="572.35" stroke="#000" stroke-width="0.85"/>
<line x1="66.20" y1="571.32" x2="69.00" y2="571.32" stroke="#000" stroke-width="0.85"/>
<line x1="66.20" y1="570.41" x2="69.00" y2="570.41" stroke="#000" stroke-width="0.85"/>
<line x1="65.80" y1="640.60" x2="69.00" y2="640.60" stroke="#000" stroke-width="1.0"/>
<line x1="65.80" y1="622.85" x2="69.00" y2="622.85" stroke="#000" stroke-width="1.0"/>
<line x1="65.80" y1="605.10" x2="69.00" y2="605.10" stroke="#000" stroke-width="1.0"/>
<line x1="65.80" y1="587.35" x2="69.00" y2="587.35" stroke="#000" stroke-width="1.0"/>
<line x1="65.80" y1="569.60" x2="69.00" y2="569.60" stroke="#000" stroke-width="1.0"/>
<line x1="69.00" y1="656.00" x2="69.00" y2="659.20" stroke="#000" stroke-width="1.6"/>
<line x1="65.80" y1="658.60" x2="69.00" y2="658.60" stroke="#000" stroke-width="1.0"/>
<line x1="67.40" y1="647.90" x2="69.20" y2="653.20" stroke="#000" stroke-width="1.0"/>
<line x1="70.20" y1="647.90" x2="72.00" y2="653.20" stroke="#000" stroke-width="1.0"/>
<text x="63.60" y="643.34" font-size="7.6" text-anchor="end" fill="#000" stroke="#000" stroke-width="0.06">2</text>
<text x="63.60" y="625.59" font-size="7.6" text-anchor="end" fill="#000" stroke="#000" stroke-width="0.06">3</text>
<text x="63.60" y="607.84" font-size="7.6" text-anchor="end" fill="#000" stroke="#000" stroke-width="0.06">4</text>
<text x="63.60" y="590.09" font-size="7.6" text-anchor="end" fill="#000" stroke="#000" stroke-width="0.06">5</text>
<text x="63.60" y="572.34" font-size="7.6" text-anchor="end" fill="#000" stroke="#000" stroke-width="0.06">6</text>
<text x="63.60" y="661.23" font-size="7.3" text-anchor="end" fill="#000" stroke="#000" stroke-width="0.06">0</text>
<line x1="69.00" y1="658.70" x2="176.20" y2="658.70" stroke="#000" stroke-width="1.3"/>
<line x1="98.30" y1="658.70" x2="98.30" y2="661.70" stroke="#000" stroke-width="1.0"/>
<line x1="147.30" y1="658.70" x2="147.30" y2="661.70" stroke="#000" stroke-width="1.0"/>
<text x="97.80" y="670.60" font-size="7.3" text-anchor="middle" textLength="18.20" lengthAdjust="spacingAndGlyphs" fill="#000" stroke="#000" stroke-width="0.06">mock</text>
<text x="147.60" y="670.60" font-size="7.3" text-anchor="middle" font-style="italic" textLength="20.60" lengthAdjust="spacingAndGlyphs" fill="#000" stroke="#000" stroke-width="0.06">E. coli</text>
<text x="41.80" y="613.40" font-size="8.0" text-anchor="middle" textLength="64.40" lengthAdjust="spacingAndGlyphs" transform="rotate(-90 41.80 613.40)" fill="#000" stroke="#000" stroke-width="0.12"><tspan font-style="italic">E. coli</tspan> in peritoneum</text>
<text x="53.20" y="614.30" font-size="8.0" text-anchor="middle" textLength="40.20" lengthAdjust="spacingAndGlyphs" transform="rotate(-90 53.20 614.30)" fill="#000" stroke="#000" stroke-width="0.12">(CFU x log 10)</text>
<line x1="133.40" y1="571.90" x2="161.10" y2="571.90" stroke="#000" stroke-width="1.0"/>
<line x1="133.40" y1="570.30" x2="133.40" y2="573.90" stroke="#000" stroke-width="1.0"/>
<line x1="161.10" y1="570.30" x2="161.10" y2="573.90" stroke="#000" stroke-width="1.0"/>
<text x="147.10" y="568.90" font-size="7.8" text-anchor="middle" textLength="24.20" lengthAdjust="spacingAndGlyphs" fill="#000" stroke="#000" stroke-width="0.06">0.0081</text>
<line x1="228.60" y1="569.51" x2="228.60" y2="659.35" stroke="#000" stroke-width="1.6"/>
<line x1="226.40" y1="649.85" x2="228.60" y2="649.85" stroke="#000" stroke-width="0.85"/>
<line x1="226.40" y1="644.64" x2="228.60" y2="644.64" stroke="#000" stroke-width="0.85"/>
<line x1="226.40" y1="640.94" x2="228.60" y2="640.94" stroke="#000" stroke-width="0.85"/>
<line x1="226.40" y1="638.07" x2="228.60" y2="638.07" stroke="#000" stroke-width="0.85"/>
<line x1="226.40" y1="635.73" x2="228.60" y2="635.73" stroke="#000" stroke-width="0.85"/>
<line x1="226.40" y1="633.75" x2="228.60" y2="633.75" stroke="#000" stroke-width="0.85"/>
<line x1="226.40" y1="632.04" x2="228.60" y2="632.04" stroke="#000" stroke-width="0.85"/>
<line x1="226.40" y1="630.52" x2="228.60" y2="630.52" stroke="#000" stroke-width="0.85"/>
<line x1="226.40" y1="620.27" x2="228.60" y2="620.27" stroke="#000" stroke-width="0.85"/>
<line x1="226.40" y1="615.06" x2="228.60" y2="615.06" stroke="#000" stroke-width="0.85"/>
<line x1="226.40" y1="611.36" x2="228.60" y2="611.36" stroke="#000" stroke-width="0.85"/>
<line x1="226.40" y1="608.49" x2="228.60" y2="608.49" stroke="#000" stroke-width="0.85"/>
<line x1="226.40" y1="606.15" x2="228.60" y2="606.15" stroke="#000" stroke-width="0.85"/>
<line x1="226.40" y1="604.17" x2="228.60" y2="604.17" stroke="#000" stroke-width="0.85"/>
<line x1="226.40" y1="602.46" x2="228.60" y2="602.46" stroke="#000" stroke-width="0.85"/>
<line x1="226.40" y1="600.94" x2="228.60" y2="600.94" stroke="#000" stroke-width="0.85"/>
<line x1="226.40" y1="590.69" x2="228.60" y2="590.69" stroke="#000" stroke-width="0.85"/>
<line x1="226.40" y1="585.48" x2="228.60" y2="585.48" stroke="#000" stroke-width="0.85"/>
<line x1="226.40" y1="581.78" x2="228.60" y2="581.78" stroke="#000" stroke-width="0.85"/>
<line x1="226.40" y1="578.91" x2="228.60" y2="578.91" stroke="#000" stroke-width="0.85"/>
<line x1="226.40" y1="576.57" x2="228.60" y2="576.57" stroke="#000" stroke-width="0.85"/>
<line x1="226.40" y1="574.59" x2="228.60" y2="574.59" stroke="#000" stroke-width="0.85"/>
<line x1="226.40" y1="572.88" x2="228.60" y2="572.88" stroke="#000" stroke-width="0.85"/>
<line x1="226.40" y1="571.36" x2="228.60" y2="571.36" stroke="#000" stroke-width="0.85"/>
<line x1="225.40" y1="658.75" x2="228.60" y2="658.75" stroke="#000" stroke-width="1.0"/>
<line x1="225.40" y1="629.17" x2="228.60" y2="629.17" stroke="#000" stroke-width="1.0"/>
<line x1="225.40" y1="599.59" x2="228.60" y2="599.59" stroke="#000" stroke-width="1.0"/>
<line x1="225.40" y1="570.01" x2="228.60" y2="570.01" stroke="#000" stroke-width="1.0"/>
<text x="223.40" y="661.49" font-size="7.6" text-anchor="end" fill="#000" stroke="#000" stroke-width="0.06">4</text>
<text x="223.40" y="631.91" font-size="7.6" text-anchor="end" fill="#000" stroke="#000" stroke-width="0.06">5</text>
<text x="223.40" y="602.33" font-size="7.6" text-anchor="end" fill="#000" stroke="#000" stroke-width="0.06">6</text>
<text x="223.40" y="572.75" font-size="7.6" text-anchor="end" fill="#000" stroke="#000" stroke-width="0.06">7</text>
<line x1="228.60" y1="658.70" x2="336.30" y2="658.70" stroke="#000" stroke-width="1.3"/>
<line x1="257.50" y1="658.70" x2="257.50" y2="661.70" stroke="#000" stroke-width="1.0"/>
<line x1="307.50" y1="658.70" x2="307.50" y2="661.70" stroke="#000" stroke-width="1.0"/>
<text x="257.50" y="670.60" font-size="7.3" text-anchor="middle" textLength="18.20" lengthAdjust="spacingAndGlyphs" fill="#000" stroke="#000" stroke-width="0.06">mock</text>
<text x="307.80" y="670.60" font-size="7.3" text-anchor="middle" font-style="italic" textLength="20.60" lengthAdjust="spacingAndGlyphs" fill="#000" stroke="#000" stroke-width="0.06">E. coli</text>
<text x="200.60" y="614.90" font-size="8.0" text-anchor="middle" textLength="39.00" lengthAdjust="spacingAndGlyphs" transform="rotate(-90 200.60 614.90)" fill="#000" stroke="#000" stroke-width="0.12">Neutrophils in</text>
<text x="212.20" y="614.90" font-size="8.0" text-anchor="middle" textLength="60.20" lengthAdjust="spacingAndGlyphs" transform="rotate(-90 212.20 614.90)" fill="#000" stroke="#000" stroke-width="0.12">peritoneum (x log 10)</text>
<line x1="405.60" y1="569.45" x2="405.60" y2="659.35" stroke="#000" stroke-width="1.6"/>
<line x1="403.40" y1="645.38" x2="405.60" y2="645.38" stroke="#000" stroke-width="0.85"/>
<line x1="403.40" y1="637.57" x2="405.60" y2="637.57" stroke="#000" stroke-width="0.85"/>
<line x1="403.40" y1="632.02" x2="405.60" y2="632.02" stroke="#000" stroke-width="0.85"/>
<line x1="403.40" y1="627.72" x2="405.60" y2="627.72" stroke="#000" stroke-width="0.85"/>
<line x1="403.40" y1="624.20" x2="405.60" y2="624.20" stroke="#000" stroke-width="0.85"/>
<line x1="403.40" y1="621.23" x2="405.60" y2="621.23" stroke="#000" stroke-width="0.85"/>
<line x1="403.40" y1="618.65" x2="405.60" y2="618.65" stroke="#000" stroke-width="0.85"/>
<line x1="403.40" y1="616.38" x2="405.60" y2="616.38" stroke="#000" stroke-width="0.85"/>
<line x1="403.40" y1="600.98" x2="405.60" y2="600.98" stroke="#000" stroke-width="0.85"/>
<line x1="403.40" y1="593.17" x2="405.60" y2="593.17" stroke="#000" stroke-width="0.85"/>
<line x1="403.40" y1="587.62" x2="405.60" y2="587.62" stroke="#000" stroke-width="0.85"/>
<line x1="403.40" y1="583.32" x2="405.60" y2="583.32" stroke="#000" stroke-width="0.85"/>
<line x1="403.40" y1="579.80" x2="405.60" y2="579.80" stroke="#000" stroke-width="0.85"/>
<line x1="403.40" y1="576.83" x2="405.60" y2="576.83" stroke="#000" stroke-width="0.85"/>
<line x1="403.40" y1="574.25" x2="405.60" y2="574.25" stroke="#000" stroke-width="0.85"/>
<line x1="403.40" y1="571.98" x2="405.60" y2="571.98" stroke="#000" stroke-width="0.85"/>
<line x1="402.40" y1="658.75" x2="405.60" y2="658.75" stroke="#000" stroke-width="1.0"/>
<line x1="402.40" y1="614.35" x2="405.60" y2="614.35" stroke="#000" stroke-width="1.0"/>
<line x1="402.40" y1="569.95" x2="405.60" y2="569.95" stroke="#000" stroke-width="1.0"/>
<text x="400.40" y="661.49" font-size="7.6" text-anchor="end" fill="#000" stroke="#000" stroke-width="0.06">5</text>
<text x="400.40" y="617.09" font-size="7.6" text-anchor="end" fill="#000" stroke="#000" stroke-width="0.06">6</text>
<text x="400.40" y="572.69" font-size="7.6" text-anchor="end" fill="#000" stroke="#000" stroke-width="0.06">7</text>
<line x1="405.60" y1="658.70" x2="512.80" y2="658.70" stroke="#000" stroke-width="1.3"/>
<line x1="434.50" y1="658.70" x2="434.50" y2="661.70" stroke="#000" stroke-width="1.0"/>
<line x1="483.40" y1="658.70" x2="483.40" y2="661.70" stroke="#000" stroke-width="1.0"/>
<text x="434.50" y="670.60" font-size="7.3" text-anchor="middle" textLength="18.20" lengthAdjust="spacingAndGlyphs" fill="#000" stroke="#000" stroke-width="0.06">mock</text>
<text x="483.60" y="670.60" font-size="7.3" text-anchor="middle" font-style="italic" textLength="20.60" lengthAdjust="spacingAndGlyphs" fill="#000" stroke="#000" stroke-width="0.06">E. coli</text>
<text x="378.40" y="614.50" font-size="8.0" text-anchor="middle" textLength="43.10" lengthAdjust="spacingAndGlyphs" transform="rotate(-90 378.40 614.50)" fill="#000" stroke="#000" stroke-width="0.12">Total peritoneal</text>
<text x="389.20" y="614.90" font-size="8.0" text-anchor="middle" textLength="59.00" lengthAdjust="spacingAndGlyphs" transform="rotate(-90 389.20 614.90)" fill="#000" stroke="#000" stroke-width="0.12">leukocytes (x log 10)</text>
<circle cx="475.10" cy="539.10" r="3.6" fill="#000"/>
<circle cx="475.10" cy="550.20" r="3.6" fill="#ff0000"/>
<text x="481.50" y="541.80" font-size="7.2" textLength="16.70" lengthAdjust="spacingAndGlyphs" fill="#000" stroke="#000" stroke-width="0.06">Ncdn</text>
<text x="498.60" y="538.60" font-size="4.6" textLength="5.80" lengthAdjust="spacingAndGlyphs" fill="#000" stroke="#000" stroke-width="0.06">fl/fl</text>
<text x="481.50" y="552.80" font-size="7.2" textLength="16.70" lengthAdjust="spacingAndGlyphs" fill="#000" stroke="#000" stroke-width="0.06">Ncdn</text>
<text x="499.20" y="551.30" font-size="4.5" font-style="italic" textLength="12.40" lengthAdjust="spacingAndGlyphs" fill="#000" stroke="#000" stroke-width="0.06">Δmye</text>
<line x1="75.70" y1="143.70" x2="95.70" y2="143.70" stroke="#000" stroke-width="1.4"/>
<line x1="80.90" y1="141.50" x2="90.60" y2="141.50" stroke="#000" stroke-width="0.8"/>
<line x1="85.50" y1="141.50" x2="85.50" y2="143.70" stroke="#000" stroke-width="0.9"/>
<circle cx="77.40" cy="145.90" r="1.85" fill="#fff" stroke="#000" stroke-width="1.25"/>
<circle cx="85.50" cy="145.90" r="1.85" fill="#fff" stroke="#000" stroke-width="1.25"/>
<circle cx="93.80" cy="145.90" r="1.85" fill="#fff" stroke="#000" stroke-width="1.25"/>
<circle cx="85.50" cy="139.00" r="1.85" fill="#fff" stroke="#000" stroke-width="1.25"/>
<line x1="105.40" y1="74.00" x2="125.40" y2="74.00" stroke="#000" stroke-width="1.3"/>
<circle cx="107.10" cy="80.60" r="2.45" fill="#000"/>
<circle cx="111.20" cy="82.50" r="2.45" fill="#000"/>
<circle cx="115.20" cy="86.30" r="2.45" fill="#000"/>
<circle cx="119.50" cy="83.20" r="2.45" fill="#000"/>
<circle cx="123.60" cy="81.20" r="2.45" fill="#000"/>
<circle cx="107.10" cy="68.80" r="2.45" fill="#000"/>
<circle cx="108.70" cy="70.60" r="2.45" fill="#000"/>
<circle cx="110.40" cy="72.00" r="2.45" fill="#000"/>
<circle cx="112.30" cy="73.00" r="2.45" fill="#000"/>
<circle cx="114.30" cy="73.60" r="2.45" fill="#000"/>
<circle cx="116.30" cy="73.60" r="2.45" fill="#000"/>
<circle cx="118.30" cy="73.00" r="2.45" fill="#000"/>
<circle cx="120.20" cy="72.00" r="2.45" fill="#000"/>
<circle cx="122.00" cy="70.50" r="2.45" fill="#000"/>
<circle cx="123.60" cy="68.60" r="2.45" fill="#000"/>
<circle cx="111.50" cy="74.40" r="2.45" fill="#000"/>
<circle cx="115.30" cy="75.00" r="2.45" fill="#000"/>
<circle cx="119.10" cy="74.40" r="2.45" fill="#000"/>
<polygon points="136.90,143.74 138.90,147.34 134.90,147.34" fill="#fff" stroke="#000" stroke-width="1.2" stroke-linejoin="round"/>
<polygon points="142.20,143.74 144.20,147.34 140.20,147.34" fill="#fff" stroke="#000" stroke-width="1.2" stroke-linejoin="round"/>
<polygon points="148.00,143.74 150.00,147.34 146.00,147.34" fill="#fff" stroke="#000" stroke-width="1.2" stroke-linejoin="round"/>
<polygon points="153.40,143.74 155.40,147.34 151.40,147.34" fill="#fff" stroke="#000" stroke-width="1.2" stroke-linejoin="round"/>
<line x1="165.20" y1="71.50" x2="185.20" y2="71.50" stroke="#000" stroke-width="1.3"/>
<polygon points="166.90,79.60 169.40,84.10 164.40,84.10" fill="#000" stroke="#000" stroke-width="0.5" stroke-linejoin="round"/>
<polygon points="175.20,81.90 177.70,86.40 172.70,86.40" fill="#000" stroke="#000" stroke-width="0.5" stroke-linejoin="round"/>
<polygon points="183.30,80.40 185.80,84.90 180.80,84.90" fill="#000" stroke="#000" stroke-width="0.5" stroke-linejoin="round"/>
<polygon points="166.90,66.90 169.40,71.40 164.40,71.40" fill="#000" stroke="#000" stroke-width="0.5" stroke-linejoin="round"/>
<polygon points="175.20,64.60 177.70,69.10 172.70,69.10" fill="#000" stroke="#000" stroke-width="0.5" stroke-linejoin="round"/>
<polygon points="183.30,67.30 185.80,71.80 180.80,71.80" fill="#000" stroke="#000" stroke-width="0.5" stroke-linejoin="round"/>
<polygon points="169.60,68.30 172.10,72.80 167.10,72.80" fill="#000" stroke="#000" stroke-width="0.5" stroke-linejoin="round"/>
<polygon points="172.20,69.70 174.70,74.20 169.70,74.20" fill="#000" stroke="#000" stroke-width="0.5" stroke-linejoin="round"/>
<polygon points="175.20,70.70 177.70,75.20 172.70,75.20" fill="#000" stroke="#000" stroke-width="0.5" stroke-linejoin="round"/>
<polygon points="178.20,70.10 180.70,74.60 175.70,74.60" fill="#000" stroke="#000" stroke-width="0.5" stroke-linejoin="round"/>
<polygon points="180.70,68.70 183.20,73.20 178.20,73.20" fill="#000" stroke="#000" stroke-width="0.5" stroke-linejoin="round"/>
<polygon points="171.80,71.70 174.30,76.20 169.30,76.20" fill="#000" stroke="#000" stroke-width="0.5" stroke-linejoin="round"/>
<polygon points="175.20,72.30 177.70,76.80 172.70,76.80" fill="#000" stroke="#000" stroke-width="0.5" stroke-linejoin="round"/>
<polygon points="178.60,71.70 181.10,76.20 176.10,76.20" fill="#000" stroke="#000" stroke-width="0.5" stroke-linejoin="round"/>
<polygon points="173.50,68.30 176.00,72.80 171.00,72.80" fill="#000" stroke="#000" stroke-width="0.5" stroke-linejoin="round"/>
<polygon points="177.00,68.30 179.50,72.80 174.50,72.80" fill="#000" stroke="#000" stroke-width="0.5" stroke-linejoin="round"/>
<circle cx="196.60" cy="145.60" r="1.85" fill="#fff" stroke="#ff0000" stroke-width="1.25"/>
<circle cx="201.90" cy="145.60" r="1.85" fill="#fff" stroke="#ff0000" stroke-width="1.25"/>
<circle cx="207.50" cy="145.60" r="1.85" fill="#fff" stroke="#ff0000" stroke-width="1.25"/>
<circle cx="213.00" cy="145.60" r="1.85" fill="#fff" stroke="#ff0000" stroke-width="1.25"/>
<line x1="225.00" y1="90.20" x2="244.60" y2="90.20" stroke="#000" stroke-width="1.3"/>
<circle cx="234.80" cy="83.50" r="2.5" fill="#ff0000"/>
<circle cx="226.50" cy="86.50" r="2.5" fill="#ff0000"/>
<circle cx="228.60" cy="87.90" r="2.5" fill="#ff0000"/>
<circle cx="230.70" cy="89.20" r="2.5" fill="#ff0000"/>
<circle cx="232.80" cy="90.20" r="2.5" fill="#ff0000"/>
<circle cx="234.80" cy="90.70" r="2.5" fill="#ff0000"/>
<circle cx="236.90" cy="90.20" r="2.5" fill="#ff0000"/>
<circle cx="239.00" cy="89.20" r="2.5" fill="#ff0000"/>
<circle cx="241.10" cy="87.90" r="2.5" fill="#ff0000"/>
<circle cx="243.20" cy="86.50" r="2.5" fill="#ff0000"/>
<circle cx="226.50" cy="100.80" r="2.5" fill="#ff0000"/>
<circle cx="231.90" cy="101.80" r="2.5" fill="#ff0000"/>
<circle cx="237.50" cy="101.20" r="2.5" fill="#ff0000"/>
<circle cx="242.80" cy="100.00" r="2.5" fill="#ff0000"/>
<line x1="75.30" y1="271.50" x2="95.30" y2="271.50" stroke="#000" stroke-width="1.3"/>
<line x1="85.30" y1="267.80" x2="85.30" y2="282.20" stroke="#000" stroke-width="1.1"/>
<line x1="80.30" y1="267.80" x2="90.30" y2="267.80" stroke="#000" stroke-width="1.1"/>
<line x1="80.30" y1="282.20" x2="90.30" y2="282.20" stroke="#000" stroke-width="1.1"/>
<circle cx="85.30" cy="263.70" r="1.85" fill="#fff" stroke="#000" stroke-width="1.25"/>
<circle cx="85.30" cy="277.50" r="1.85" fill="#fff" stroke="#000" stroke-width="1.25"/>
<circle cx="81.50" cy="287.30" r="1.85" fill="#fff" stroke="#000" stroke-width="1.25"/>
<circle cx="89.00" cy="287.30" r="1.85" fill="#fff" stroke="#000" stroke-width="1.25"/>
<line x1="105.30" y1="244.20" x2="124.30" y2="244.20" stroke="#000" stroke-width="1.3"/>
<line x1="114.80" y1="241.70" x2="114.80" y2="247.60" stroke="#000" stroke-width="1.1"/>
<line x1="109.80" y1="241.70" x2="119.80" y2="241.70" stroke="#000" stroke-width="1.1"/>
<line x1="109.80" y1="247.60" x2="119.80" y2="247.60" stroke="#000" stroke-width="1.1"/>
<circle cx="115.00" cy="231.90" r="2.45" fill="#000"/>
<circle cx="106.90" cy="240.50" r="2.45" fill="#000"/>
<circle cx="123.10" cy="242.50" r="2.45" fill="#000"/>
<circle cx="115.00" cy="243.70" r="2.45" fill="#000"/>
<circle cx="106.90" cy="248.80" r="2.45" fill="#000"/>
<circle cx="110.50" cy="249.50" r="2.45" fill="#000"/>
<circle cx="115.00" cy="249.50" r="2.45" fill="#000"/>
<circle cx="119.20" cy="249.50" r="2.45" fill="#000"/>
<circle cx="123.10" cy="248.80" r="2.45" fill="#000"/>
<circle cx="115.00" cy="253.50" r="2.45" fill="#000"/>
<circle cx="115.00" cy="262.70" r="2.45" fill="#000"/>
<circle cx="111.30" cy="269.60" r="2.45" fill="#000"/>
<circle cx="118.50" cy="269.00" r="2.45" fill="#000"/>
<line x1="135.10" y1="281.40" x2="154.90" y2="281.40" stroke="#000" stroke-width="1.3"/>
<line x1="145.00" y1="278.50" x2="145.00" y2="284.50" stroke="#000" stroke-width="1.1"/>
<line x1="140.00" y1="278.50" x2="150.00" y2="278.50" stroke="#000" stroke-width="1.1"/>
<line x1="140.00" y1="284.50" x2="150.00" y2="284.50" stroke="#000" stroke-width="1.1"/>
<polygon points="141.20,276.43 143.30,280.21 139.10,280.21" fill="#fff" stroke="#000" stroke-width="1.15" stroke-linejoin="round"/>
<polygon points="148.90,275.63 151.00,279.41 146.80,279.41" fill="#fff" stroke="#000" stroke-width="1.15" stroke-linejoin="round"/>
<polygon points="144.80,282.13 146.90,285.91 142.70,285.91" fill="#fff" stroke="#000" stroke-width="1.15" stroke-linejoin="round"/>
<polygon points="144.80,292.33 146.90,296.11 142.70,296.11" fill="#fff" stroke="#000" stroke-width="1.15" stroke-linejoin="round"/>
<line x1="164.90" y1="241.30" x2="184.90" y2="241.30" stroke="#000" stroke-width="1.3"/>
<line x1="174.90" y1="237.80" x2="174.90" y2="244.60" stroke="#000" stroke-width="1.1"/>
<line x1="169.90" y1="237.80" x2="179.90" y2="237.80" stroke="#000" stroke-width="1.1"/>
<line x1="169.90" y1="244.60" x2="179.90" y2="244.60" stroke="#000" stroke-width="1.1"/>
<polygon points="166.60,230.90 169.10,235.40 164.10,235.40" fill="#000" stroke="#000" stroke-width="0.5" stroke-linejoin="round"/>
<polygon points="174.90,233.80 177.40,238.30 172.40,238.30" fill="#000" stroke="#000" stroke-width="0.5" stroke-linejoin="round"/>
<polygon points="182.90,233.60 185.40,238.10 180.40,238.10" fill="#000" stroke="#000" stroke-width="0.5" stroke-linejoin="round"/>
<polygon points="171.30,241.50 173.80,246.00 168.80,246.00" fill="#000" stroke="#000" stroke-width="0.5" stroke-linejoin="round"/>
<polygon points="174.90,239.70 177.40,244.20 172.40,244.20" fill="#000" stroke="#000" stroke-width="0.5" stroke-linejoin="round"/>
<polygon points="178.40,241.30 180.90,245.80 175.90,245.80" fill="#000" stroke="#000" stroke-width="0.5" stroke-linejoin="round"/>
<polygon points="174.90,246.20 177.40,250.70 172.40,250.70" fill="#000" stroke="#000" stroke-width="0.5" stroke-linejoin="round"/>
<polygon points="174.90,252.10 177.40,256.60 172.40,256.60" fill="#000" stroke="#000" stroke-width="0.5" stroke-linejoin="round"/>
<polygon points="171.10,259.80 173.60,264.30 168.60,264.30" fill="#000" stroke="#000" stroke-width="0.5" stroke-linejoin="round"/>
<polygon points="178.40,259.80 180.90,264.30 175.90,264.30" fill="#000" stroke="#000" stroke-width="0.5" stroke-linejoin="round"/>
<polygon points="174.90,266.30 177.40,270.80 172.40,270.80" fill="#000" stroke="#000" stroke-width="0.5" stroke-linejoin="round"/>
<line x1="195.00" y1="268.10" x2="214.80" y2="268.10" stroke="#000" stroke-width="1.3"/>
<line x1="204.90" y1="265.50" x2="204.90" y2="271.40" stroke="#000" stroke-width="1.1"/>
<line x1="199.90" y1="265.50" x2="209.90" y2="265.50" stroke="#000" stroke-width="1.1"/>
<line x1="199.90" y1="271.40" x2="209.90" y2="271.40" stroke="#000" stroke-width="1.1"/>
<circle cx="201.20" cy="264.90" r="1.85" fill="#fff" stroke="#ff0000" stroke-width="1.25"/>
<circle cx="208.50" cy="264.30" r="1.85" fill="#fff" stroke="#ff0000" stroke-width="1.25"/>
<circle cx="204.80" cy="271.40" r="1.85" fill="#fff" stroke="#ff0000" stroke-width="1.25"/>
<circle cx="204.80" cy="295.80" r="1.85" fill="#fff" stroke="#ff0000" stroke-width="1.25"/>
<circle cx="234.60" cy="229.40" r="2.5" fill="#ff0000"/>
<circle cx="238.20" cy="236.80" r="2.5" fill="#ff0000"/>
<circle cx="231.10" cy="239.80" r="2.5" fill="#ff0000"/>
<circle cx="231.10" cy="246.00" r="2.5" fill="#ff0000"/>
<circle cx="238.20" cy="246.00" r="2.5" fill="#ff0000"/>
<circle cx="231.10" cy="252.10" r="2.5" fill="#ff0000"/>
<circle cx="238.20" cy="252.10" r="2.5" fill="#ff0000"/>
<circle cx="234.60" cy="262.30" r="2.5" fill="#ff0000"/>
<circle cx="234.60" cy="266.40" r="2.5" fill="#ff0000"/>
<circle cx="234.60" cy="271.00" r="2.5" fill="#ff0000"/>
<circle cx="234.60" cy="275.90" r="2.5" fill="#ff0000"/>
<line x1="224.80" y1="241.60" x2="244.60" y2="241.60" stroke="#000" stroke-width="1.3"/>
<line x1="234.70" y1="238.70" x2="234.70" y2="246.60" stroke="#000" stroke-width="1.1"/>
<line x1="230.70" y1="238.70" x2="238.70" y2="238.70" stroke="#000" stroke-width="1.1"/>
<line x1="230.70" y1="246.60" x2="238.70" y2="246.60" stroke="#000" stroke-width="1.1"/>
<line x1="76.30" y1="391.70" x2="96.50" y2="391.70" stroke="#000" stroke-width="1.3"/>
<line x1="86.40" y1="388.20" x2="86.40" y2="395.20" stroke="#000" stroke-width="1.1"/>
<line x1="81.40" y1="388.20" x2="91.40" y2="388.20" stroke="#000" stroke-width="1.1"/>
<line x1="81.40" y1="395.20" x2="91.40" y2="395.20" stroke="#000" stroke-width="1.1"/>
<circle cx="90.20" cy="387.10" r="1.85" fill="#fff" stroke="#000" stroke-width="1.25"/>
<circle cx="82.70" cy="390.20" r="1.85" fill="#fff" stroke="#000" stroke-width="1.25"/>
<circle cx="90.20" cy="397.30" r="1.85" fill="#fff" stroke="#000" stroke-width="1.25"/>
<circle cx="82.70" cy="400.80" r="1.85" fill="#fff" stroke="#000" stroke-width="1.25"/>
<circle cx="112.50" cy="387.90" r="2.45" fill="#000"/>
<circle cx="119.80" cy="387.90" r="2.45" fill="#000"/>
<circle cx="108.10" cy="392.50" r="2.45" fill="#000"/>
<circle cx="124.20" cy="392.50" r="2.45" fill="#000"/>
<circle cx="112.00" cy="394.00" r="2.45" fill="#000"/>
<circle cx="116.00" cy="395.00" r="2.45" fill="#000"/>
<circle cx="120.00" cy="394.00" r="2.45" fill="#000"/>
<circle cx="108.10" cy="397.70" r="2.45" fill="#000"/>
<circle cx="124.20" cy="397.70" r="2.45" fill="#000"/>
<circle cx="113.30" cy="401.70" r="2.45" fill="#000"/>
<circle cx="119.00" cy="400.20" r="2.45" fill="#000"/>
<circle cx="116.20" cy="409.00" r="2.45" fill="#000"/>
<circle cx="116.20" cy="420.20" r="2.45" fill="#000"/>
<line x1="106.50" y1="394.20" x2="125.50" y2="394.20" stroke="#000" stroke-width="1.3"/>
<line x1="136.30" y1="390.80" x2="156.10" y2="390.80" stroke="#000" stroke-width="1.3"/>
<line x1="146.20" y1="387.90" x2="146.20" y2="395.00" stroke="#000" stroke-width="1.1"/>
<line x1="141.20" y1="387.90" x2="151.20" y2="387.90" stroke="#000" stroke-width="1.1"/>
<line x1="141.20" y1="395.00" x2="151.20" y2="395.00" stroke="#000" stroke-width="1.1"/>
<polygon points="146.20,381.53 148.30,385.31 144.10,385.31" fill="#fff" stroke="#000" stroke-width="1.15" stroke-linejoin="round"/>
<polygon points="142.10,393.73 144.20,397.51 140.00,397.51" fill="#fff" stroke="#000" stroke-width="1.15" stroke-linejoin="round"/>
<polygon points="149.60,391.93 151.70,395.71 147.50,395.71" fill="#fff" stroke="#000" stroke-width="1.15" stroke-linejoin="round"/>
<polygon points="146.20,397.73 148.30,401.51 144.10,401.51" fill="#fff" stroke="#000" stroke-width="1.15" stroke-linejoin="round"/>
<polygon points="175.90,381.70 178.40,386.20 173.40,386.20" fill="#000" stroke="#000" stroke-width="0.5" stroke-linejoin="round"/>
<polygon points="179.40,385.80 181.90,390.30 176.90,390.30" fill="#000" stroke="#000" stroke-width="0.5" stroke-linejoin="round"/>
<polygon points="172.10,387.50 174.60,392.00 169.60,392.00" fill="#000" stroke="#000" stroke-width="0.5" stroke-linejoin="round"/>
<polygon points="167.50,391.50 170.00,396.00 165.00,396.00" fill="#000" stroke="#000" stroke-width="0.5" stroke-linejoin="round"/>
<polygon points="184.20,391.00 186.70,395.50 181.70,395.50" fill="#000" stroke="#000" stroke-width="0.5" stroke-linejoin="round"/>
<polygon points="176.20,389.80 178.70,394.30 173.70,394.30" fill="#000" stroke="#000" stroke-width="0.5" stroke-linejoin="round"/>
<polygon points="172.70,394.10 175.20,398.60 170.20,398.60" fill="#000" stroke="#000" stroke-width="0.5" stroke-linejoin="round"/>
<polygon points="179.00,393.30 181.50,397.80 176.50,397.80" fill="#000" stroke="#000" stroke-width="0.5" stroke-linejoin="round"/>
<polygon points="184.20,394.10 186.70,398.60 181.70,398.60" fill="#000" stroke="#000" stroke-width="0.5" stroke-linejoin="round"/>
<polygon points="167.50,397.10 170.00,401.60 165.00,401.60" fill="#000" stroke="#000" stroke-width="0.5" stroke-linejoin="round"/>
<polygon points="178.50,397.50 181.00,402.00 176.00,402.00" fill="#000" stroke="#000" stroke-width="0.5" stroke-linejoin="round"/>
<polygon points="173.00,400.20 175.50,404.70 170.50,404.70" fill="#000" stroke="#000" stroke-width="0.5" stroke-linejoin="round"/>
<line x1="166.40" y1="393.00" x2="185.40" y2="393.00" stroke="#000" stroke-width="1.3"/>
<line x1="200.90" y1="387.90" x2="210.90" y2="387.90" stroke="#000" stroke-width="1.7"/>
<circle cx="197.80" cy="386.70" r="1.85" fill="#fff" stroke="#ff0000" stroke-width="1.25"/>
<circle cx="205.90" cy="387.30" r="1.85" fill="#fff" stroke="#ff0000" stroke-width="1.25"/>
<circle cx="214.00" cy="386.70" r="1.85" fill="#fff" stroke="#ff0000" stroke-width="1.25"/>
<circle cx="205.90" cy="392.20" r="1.85" fill="#fff" stroke="#ff0000" stroke-width="1.25"/>
<circle cx="235.60" cy="387.10" r="2.5" fill="#ff0000"/>
<circle cx="227.50" cy="391.00" r="2.5" fill="#ff0000"/>
<circle cx="231.50" cy="392.20" r="2.5" fill="#ff0000"/>
<circle cx="235.60" cy="392.80" r="2.5" fill="#ff0000"/>
<circle cx="239.60" cy="392.20" r="2.5" fill="#ff0000"/>
<circle cx="243.70" cy="391.70" r="2.5" fill="#ff0000"/>
<circle cx="243.70" cy="396.00" r="2.5" fill="#ff0000"/>
<circle cx="227.50" cy="397.90" r="2.5" fill="#ff0000"/>
<circle cx="232.70" cy="399.80" r="2.5" fill="#ff0000"/>
<circle cx="238.50" cy="399.40" r="2.5" fill="#ff0000"/>
<circle cx="235.60" cy="403.70" r="2.5" fill="#ff0000"/>
<circle cx="235.60" cy="409.80" r="2.5" fill="#ff0000"/>
<line x1="225.80" y1="394.50" x2="245.00" y2="394.50" stroke="#000" stroke-width="1.3"/>
<circle cx="326.30" cy="145.60" r="1.7" fill="#fff" stroke="#000" stroke-width="1.15"/>
<circle cx="331.50" cy="145.60" r="1.7" fill="#fff" stroke="#000" stroke-width="1.15"/>
<circle cx="337.30" cy="145.60" r="1.7" fill="#fff" stroke="#000" stroke-width="1.15"/>
<circle cx="342.70" cy="145.60" r="1.7" fill="#fff" stroke="#000" stroke-width="1.15"/>
<line x1="354.20" y1="94.20" x2="374.00" y2="94.20" stroke="#000" stroke-width="1.3"/>
<line x1="364.10" y1="92.30" x2="364.10" y2="97.50" stroke="#000" stroke-width="1.1"/>
<line x1="359.10" y1="92.30" x2="369.10" y2="92.30" stroke="#000" stroke-width="1.1"/>
<line x1="359.10" y1="97.50" x2="369.10" y2="97.50" stroke="#000" stroke-width="1.1"/>
<circle cx="355.80" cy="87.30" r="1.95" fill="#000"/>
<circle cx="364.40" cy="89.20" r="1.95" fill="#000"/>
<circle cx="372.10" cy="88.50" r="1.95" fill="#000"/>
<circle cx="355.80" cy="103.30" r="1.95" fill="#000"/>
<circle cx="359.00" cy="104.40" r="1.95" fill="#000"/>
<circle cx="362.30" cy="104.60" r="1.95" fill="#000"/>
<circle cx="365.80" cy="104.60" r="1.95" fill="#000"/>
<circle cx="369.00" cy="103.80" r="1.95" fill="#000"/>
<circle cx="372.50" cy="102.30" r="1.95" fill="#000"/>
<line x1="384.00" y1="123.50" x2="403.80" y2="123.50" stroke="#000" stroke-width="1.3"/>
<line x1="393.70" y1="118.80" x2="393.70" y2="145.60" stroke="#000" stroke-width="1.1"/>
<line x1="388.90" y1="118.80" x2="398.50" y2="118.80" stroke="#000" stroke-width="1.1"/>
<line x1="388.90" y1="145.60" x2="398.50" y2="145.60" stroke="#000" stroke-width="1.1"/>
<circle cx="385.60" cy="145.60" r="1.7" fill="#fff" stroke="#0000ff" stroke-width="1.15"/>
<circle cx="393.70" cy="145.60" r="1.7" fill="#fff" stroke="#0000ff" stroke-width="1.15"/>
<circle cx="401.90" cy="145.60" r="1.7" fill="#fff" stroke="#0000ff" stroke-width="1.15"/>
<circle cx="393.70" cy="114.40" r="1.7" fill="#fff" stroke="#0000ff" stroke-width="1.15"/>
<line x1="413.70" y1="74.40" x2="433.50" y2="74.40" stroke="#000" stroke-width="1.3"/>
<line x1="423.30" y1="71.50" x2="423.30" y2="77.30" stroke="#000" stroke-width="1.1"/>
<line x1="418.50" y1="71.50" x2="428.10" y2="71.50" stroke="#000" stroke-width="1.1"/>
<line x1="418.50" y1="77.30" x2="428.10" y2="77.30" stroke="#000" stroke-width="1.1"/>
<circle cx="415.00" cy="66.30" r="1.95" fill="#0000ff"/>
<circle cx="423.30" cy="69.20" r="1.95" fill="#0000ff"/>
<circle cx="431.50" cy="68.70" r="1.95" fill="#0000ff"/>
<circle cx="420.00" cy="82.10" r="1.95" fill="#0000ff"/>
<circle cx="427.10" cy="81.70" r="1.95" fill="#0000ff"/>
<circle cx="415.00" cy="86.50" r="1.95" fill="#0000ff"/>
<circle cx="420.80" cy="88.50" r="1.95" fill="#0000ff"/>
<circle cx="426.20" cy="86.90" r="1.95" fill="#0000ff"/>
<circle cx="431.50" cy="84.60" r="1.95" fill="#0000ff"/>
<circle cx="445.80" cy="145.60" r="1.7" fill="#fff" stroke="#00c000" stroke-width="1.15"/>
<circle cx="449.60" cy="145.60" r="1.7" fill="#fff" stroke="#00c000" stroke-width="1.15"/>
<circle cx="453.20" cy="145.60" r="1.7" fill="#fff" stroke="#00c000" stroke-width="1.15"/>
<circle cx="456.90" cy="145.60" r="1.7" fill="#fff" stroke="#00c000" stroke-width="1.15"/>
<circle cx="460.80" cy="145.60" r="1.7" fill="#fff" stroke="#00c000" stroke-width="1.15"/>
<circle cx="474.60" cy="86.50" r="1.95" fill="#00c000"/>
<circle cx="480.00" cy="86.50" r="1.95" fill="#00c000"/>
<circle cx="485.40" cy="86.50" r="1.95" fill="#00c000"/>
<circle cx="491.00" cy="84.00" r="1.95" fill="#00c000"/>
<circle cx="479.00" cy="100.80" r="1.95" fill="#00c000"/>
<circle cx="486.20" cy="100.00" r="1.95" fill="#00c000"/>
<circle cx="486.20" cy="104.60" r="1.95" fill="#00c000"/>
<circle cx="479.00" cy="108.10" r="1.95" fill="#00c000"/>
<circle cx="474.20" cy="111.90" r="1.95" fill="#00c000"/>
<circle cx="490.60" cy="112.30" r="1.95" fill="#00c000"/>
<circle cx="482.50" cy="113.50" r="1.95" fill="#00c000"/>
<circle cx="482.50" cy="117.70" r="1.95" fill="#00c000"/>
<circle cx="482.50" cy="119.60" r="1.95" fill="#00c000"/>
<circle cx="482.50" cy="121.90" r="1.95" fill="#00c000"/>
<line x1="472.70" y1="92.30" x2="492.50" y2="92.30" stroke="#000" stroke-width="1.3"/>
<line x1="482.60" y1="90.40" x2="482.60" y2="95.60" stroke="#000" stroke-width="1.1"/>
<line x1="477.80" y1="90.40" x2="487.40" y2="90.40" stroke="#000" stroke-width="1.1"/>
<line x1="477.80" y1="95.60" x2="487.40" y2="95.60" stroke="#000" stroke-width="1.1"/>
<line x1="324.80" y1="260.00" x2="344.00" y2="260.00" stroke="#000" stroke-width="1.3"/>
<line x1="334.40" y1="257.00" x2="334.40" y2="264.30" stroke="#000" stroke-width="1.1"/>
<line x1="329.60" y1="257.00" x2="339.20" y2="257.00" stroke="#000" stroke-width="1.1"/>
<line x1="329.60" y1="264.30" x2="339.20" y2="264.30" stroke="#000" stroke-width="1.1"/>
<circle cx="334.40" cy="253.90" r="1.7" fill="#fff" stroke="#000" stroke-width="1.15"/>
<circle cx="330.70" cy="262.00" r="1.7" fill="#fff" stroke="#000" stroke-width="1.15"/>
<circle cx="334.40" cy="262.00" r="1.7" fill="#fff" stroke="#000" stroke-width="1.15"/>
<circle cx="337.60" cy="262.00" r="1.7" fill="#fff" stroke="#000" stroke-width="1.15"/>
<circle cx="334.40" cy="272.40" r="1.7" fill="#fff" stroke="#000" stroke-width="1.15"/>
<circle cx="364.10" cy="223.30" r="1.95" fill="#000"/>
<circle cx="356.00" cy="226.80" r="1.95" fill="#000"/>
<circle cx="371.90" cy="226.20" r="1.95" fill="#000"/>
<circle cx="361.50" cy="229.20" r="1.95" fill="#000"/>
<circle cx="366.40" cy="228.00" r="1.95" fill="#000"/>
<circle cx="356.00" cy="232.60" r="1.95" fill="#000"/>
<circle cx="371.90" cy="233.70" r="1.95" fill="#000"/>
<circle cx="364.10" cy="235.80" r="1.95" fill="#000"/>
<circle cx="364.10" cy="243.20" r="1.95" fill="#000"/>
<line x1="353.80" y1="228.80" x2="373.60" y2="228.80" stroke="#000" stroke-width="1.3"/>
<line x1="358.80" y1="227.00" x2="368.60" y2="227.00" stroke="#000" stroke-width="1.0"/>
<line x1="358.80" y1="230.60" x2="368.60" y2="230.60" stroke="#000" stroke-width="1.0"/>
<line x1="383.70" y1="260.30" x2="403.50" y2="260.30" stroke="#000" stroke-width="1.3"/>
<line x1="393.50" y1="257.40" x2="393.50" y2="265.20" stroke="#000" stroke-width="1.1"/>
<line x1="388.70" y1="257.40" x2="398.30" y2="257.40" stroke="#000" stroke-width="1.1"/>
<line x1="388.70" y1="265.20" x2="398.30" y2="265.20" stroke="#000" stroke-width="1.1"/>
<circle cx="393.50" cy="254.80" r="1.7" fill="#fff" stroke="#0000ff" stroke-width="1.15"/>
<circle cx="397.00" cy="260.30" r="1.7" fill="#fff" stroke="#0000ff" stroke-width="1.15"/>
<circle cx="390.10" cy="264.30" r="1.7" fill="#fff" stroke="#0000ff" stroke-width="1.15"/>
<circle cx="393.50" cy="281.10" r="1.7" fill="#fff" stroke="#0000ff" stroke-width="1.15"/>
<circle cx="422.90" cy="222.30" r="1.95" fill="#0000ff"/>
<circle cx="415.10" cy="228.20" r="1.95" fill="#0000ff"/>
<circle cx="420.50" cy="229.60" r="1.95" fill="#0000ff"/>
<circle cx="426.00" cy="228.70" r="1.95" fill="#0000ff"/>
<circle cx="431.50" cy="226.90" r="1.95" fill="#0000ff"/>
<circle cx="415.10" cy="232.40" r="1.95" fill="#0000ff"/>
<circle cx="431.50" cy="232.40" r="1.95" fill="#0000ff"/>
<circle cx="426.00" cy="234.70" r="1.95" fill="#0000ff"/>
<circle cx="420.50" cy="237.90" r="1.95" fill="#0000ff"/>
<line x1="416.90" y1="228.70" x2="433.30" y2="228.70" stroke="#000" stroke-width="1.3"/>
<line x1="443.00" y1="260.20" x2="462.60" y2="260.20" stroke="#000" stroke-width="1.3"/>
<line x1="452.60" y1="257.00" x2="452.60" y2="267.10" stroke="#000" stroke-width="1.1"/>
<line x1="447.80" y1="257.00" x2="457.40" y2="257.00" stroke="#000" stroke-width="1.1"/>
<line x1="447.80" y1="267.10" x2="457.40" y2="267.10" stroke="#000" stroke-width="1.1"/>
<circle cx="452.50" cy="252.50" r="1.7" fill="#fff" stroke="#00c000" stroke-width="1.15"/>
<circle cx="452.50" cy="261.60" r="1.7" fill="#fff" stroke="#00c000" stroke-width="1.15"/>
<circle cx="456.60" cy="267.70" r="1.7" fill="#fff" stroke="#00c000" stroke-width="1.15"/>
<circle cx="448.90" cy="269.80" r="1.7" fill="#fff" stroke="#00c000" stroke-width="1.15"/>
<circle cx="452.50" cy="279.90" r="1.7" fill="#fff" stroke="#00c000" stroke-width="1.15"/>
<circle cx="474.10" cy="230.50" r="1.95" fill="#00c000"/>
<circle cx="477.80" cy="231.80" r="1.95" fill="#00c000"/>
<circle cx="480.90" cy="233.60" r="1.95" fill="#00c000"/>
<circle cx="484.00" cy="232.90" r="1.95" fill="#00c000"/>
<circle cx="487.30" cy="231.10" r="1.95" fill="#00c000"/>
<circle cx="490.60" cy="228.70" r="1.95" fill="#00c000"/>
<circle cx="474.10" cy="236.00" r="1.95" fill="#00c000"/>
<circle cx="479.00" cy="235.50" r="1.95" fill="#00c000"/>
<circle cx="485.40" cy="235.50" r="1.95" fill="#00c000"/>
<circle cx="490.60" cy="236.60" r="1.95" fill="#00c000"/>
<circle cx="482.10" cy="238.80" r="1.95" fill="#00c000"/>
<circle cx="474.50" cy="244.30" r="1.95" fill="#00c000"/>
<circle cx="482.10" cy="243.30" r="1.95" fill="#00c000"/>
<circle cx="478.10" cy="246.40" r="1.95" fill="#00c000"/>
<circle cx="486.40" cy="247.00" r="1.95" fill="#00c000"/>
<circle cx="490.60" cy="245.20" r="1.95" fill="#00c000"/>
<circle cx="482.10" cy="248.80" r="1.95" fill="#00c000"/>
<line x1="475.40" y1="235.10" x2="492.40" y2="235.10" stroke="#000" stroke-width="1.3"/>
<line x1="483.00" y1="233.60" x2="483.00" y2="236.60" stroke="#000" stroke-width="1.1"/>
<line x1="478.50" y1="233.60" x2="487.50" y2="233.60" stroke="#000" stroke-width="1.1"/>
<line x1="478.50" y1="236.60" x2="487.50" y2="236.60" stroke="#000" stroke-width="1.1"/>
<line x1="325.20" y1="392.20" x2="345.20" y2="392.20" stroke="#000" stroke-width="1.3"/>
<line x1="335.20" y1="388.70" x2="335.20" y2="404.80" stroke="#000" stroke-width="1.1"/>
<line x1="330.20" y1="388.70" x2="340.20" y2="388.70" stroke="#000" stroke-width="1.1"/>
<line x1="330.20" y1="404.80" x2="340.20" y2="404.80" stroke="#000" stroke-width="1.1"/>
<circle cx="335.20" cy="385.80" r="1.7" fill="#fff" stroke="#000" stroke-width="1.15"/>
<circle cx="335.20" cy="401.00" r="1.7" fill="#fff" stroke="#000" stroke-width="1.15"/>
<circle cx="331.20" cy="411.40" r="1.7" fill="#fff" stroke="#000" stroke-width="1.15"/>
<circle cx="338.70" cy="409.10" r="1.7" fill="#fff" stroke="#000" stroke-width="1.15"/>
<line x1="354.60" y1="381.40" x2="374.60" y2="381.40" stroke="#000" stroke-width="1.3"/>
<line x1="364.60" y1="378.00" x2="364.60" y2="384.40" stroke="#000" stroke-width="1.1"/>
<line x1="359.60" y1="378.00" x2="369.60" y2="378.00" stroke="#000" stroke-width="1.1"/>
<line x1="359.60" y1="384.40" x2="369.60" y2="384.40" stroke="#000" stroke-width="1.1"/>
<circle cx="356.30" cy="375.70" r="1.95" fill="#000"/>
<circle cx="372.80" cy="375.70" r="1.95" fill="#000"/>
<circle cx="364.60" cy="378.50" r="1.95" fill="#000"/>
<circle cx="360.70" cy="391.30" r="1.95" fill="#000"/>
<circle cx="368.40" cy="391.30" r="1.95" fill="#000"/>
<circle cx="356.30" cy="398.70" r="1.95" fill="#000"/>
<circle cx="372.80" cy="397.50" r="1.95" fill="#000"/>
<circle cx="361.50" cy="402.70" r="1.95" fill="#000"/>
<circle cx="367.10" cy="401.70" r="1.95" fill="#000"/>
<line x1="384.00" y1="390.10" x2="404.00" y2="390.10" stroke="#000" stroke-width="1.3"/>
<line x1="394.00" y1="386.60" x2="394.00" y2="402.20" stroke="#000" stroke-width="1.1"/>
<line x1="389.00" y1="386.60" x2="399.00" y2="386.60" stroke="#000" stroke-width="1.1"/>
<line x1="389.00" y1="402.20" x2="399.00" y2="402.20" stroke="#000" stroke-width="1.1"/>
<circle cx="394.00" cy="383.20" r="1.7" fill="#fff" stroke="#0000ff" stroke-width="1.15"/>
<circle cx="394.00" cy="397.00" r="1.7" fill="#fff" stroke="#0000ff" stroke-width="1.15"/>
<circle cx="390.10" cy="420.00" r="1.7" fill="#fff" stroke="#0000ff" stroke-width="1.15"/>
<circle cx="397.50" cy="418.30" r="1.7" fill="#fff" stroke="#0000ff" stroke-width="1.15"/>
<circle cx="420.00" cy="376.90" r="1.95" fill="#0000ff"/>
<circle cx="427.30" cy="376.00" r="1.95" fill="#0000ff"/>
<circle cx="423.60" cy="381.50" r="1.95" fill="#0000ff"/>
<circle cx="423.60" cy="396.40" r="1.95" fill="#0000ff"/>
<circle cx="415.60" cy="399.70" r="1.95" fill="#0000ff"/>
<circle cx="432.10" cy="398.80" r="1.95" fill="#0000ff"/>
<circle cx="421.10" cy="403.00" r="1.95" fill="#0000ff"/>
<circle cx="426.60" cy="402.50" r="1.95" fill="#0000ff"/>
<circle cx="423.60" cy="409.80" r="1.95" fill="#0000ff"/>
<line x1="413.90" y1="382.70" x2="433.90" y2="382.70" stroke="#000" stroke-width="1.3"/>
<line x1="423.60" y1="380.50" x2="423.60" y2="386.60" stroke="#000" stroke-width="1.1"/>
<line x1="418.80" y1="380.50" x2="428.40" y2="380.50" stroke="#000" stroke-width="1.1"/>
<line x1="418.80" y1="386.60" x2="428.40" y2="386.60" stroke="#000" stroke-width="1.1"/>
<line x1="443.40" y1="392.10" x2="463.40" y2="392.10" stroke="#000" stroke-width="1.3"/>
<line x1="453.40" y1="388.80" x2="453.40" y2="408.00" stroke="#000" stroke-width="1.1"/>
<line x1="448.40" y1="388.80" x2="458.40" y2="388.80" stroke="#000" stroke-width="1.1"/>
<line x1="448.40" y1="408.00" x2="458.40" y2="408.00" stroke="#000" stroke-width="1.1"/>
<circle cx="453.40" cy="384.20" r="1.7" fill="#fff" stroke="#00c000" stroke-width="1.15"/>
<circle cx="449.40" cy="404.90" r="1.7" fill="#fff" stroke="#00c000" stroke-width="1.15"/>
<circle cx="457.10" cy="403.90" r="1.7" fill="#fff" stroke="#00c000" stroke-width="1.15"/>
<circle cx="453.40" cy="415.30" r="1.7" fill="#fff" stroke="#00c000" stroke-width="1.15"/>
<circle cx="453.40" cy="422.60" r="1.7" fill="#fff" stroke="#00c000" stroke-width="1.15"/>
<circle cx="474.80" cy="383.30" r="1.95" fill="#00c000"/>
<circle cx="485.40" cy="383.80" r="1.95" fill="#00c000"/>
<circle cx="490.90" cy="382.40" r="1.95" fill="#00c000"/>
<circle cx="480.00" cy="386.60" r="1.95" fill="#00c000"/>
<circle cx="479.00" cy="394.60" r="1.95" fill="#00c000"/>
<circle cx="486.40" cy="394.30" r="1.95" fill="#00c000"/>
<circle cx="474.80" cy="401.90" r="1.95" fill="#00c000"/>
<circle cx="479.00" cy="403.40" r="1.95" fill="#00c000"/>
<circle cx="483.20" cy="403.80" r="1.95" fill="#00c000"/>
<circle cx="487.30" cy="403.40" r="1.95" fill="#00c000"/>
<circle cx="490.90" cy="402.50" r="1.95" fill="#00c000"/>
<circle cx="486.70" cy="407.40" r="1.95" fill="#00c000"/>
<circle cx="479.00" cy="410.70" r="1.95" fill="#00c000"/>
<circle cx="482.70" cy="416.60" r="1.95" fill="#00c000"/>
<circle cx="482.70" cy="425.30" r="1.95" fill="#00c000"/>
<line x1="473.60" y1="389.70" x2="492.80" y2="389.70" stroke="#000" stroke-width="1.3"/>
<line x1="483.00" y1="387.90" x2="483.00" y2="392.10" stroke="#000" stroke-width="1.1"/>
<line x1="478.50" y1="387.90" x2="487.50" y2="387.90" stroke="#000" stroke-width="1.1"/>
<line x1="478.50" y1="392.10" x2="487.50" y2="392.10" stroke="#000" stroke-width="1.1"/>
<circle cx="82.30" cy="658.90" r="1.85" fill="#fff" stroke="#000" stroke-width="1.25"/>
<circle cx="87.70" cy="658.90" r="1.85" fill="#fff" stroke="#000" stroke-width="1.25"/>
<circle cx="93.10" cy="658.90" r="1.85" fill="#fff" stroke="#000" stroke-width="1.25"/>
<circle cx="103.50" cy="658.90" r="1.85" fill="#fff" stroke="#ff0000" stroke-width="1.25"/>
<circle cx="108.80" cy="658.90" r="1.85" fill="#fff" stroke="#ff0000" stroke-width="1.25"/>
<circle cx="114.20" cy="658.90" r="1.85" fill="#fff" stroke="#ff0000" stroke-width="1.25"/>
<circle cx="132.00" cy="582.30" r="2.3" fill="#000"/>
<circle cx="141.90" cy="579.50" r="2.3" fill="#000"/>
<circle cx="132.00" cy="588.10" r="2.3" fill="#000"/>
<circle cx="141.90" cy="589.20" r="2.3" fill="#000"/>
<circle cx="136.90" cy="601.90" r="2.3" fill="#000"/>
<line x1="131.80" y1="585.10" x2="142.80" y2="585.10" stroke="#000" stroke-width="1.3"/>
<line x1="137.30" y1="583.00" x2="137.30" y2="587.50" stroke="#000" stroke-width="1.1"/>
<line x1="133.80" y1="583.00" x2="140.80" y2="583.00" stroke="#000" stroke-width="1.1"/>
<line x1="133.80" y1="587.50" x2="140.80" y2="587.50" stroke="#000" stroke-width="1.1"/>
<circle cx="158.10" cy="593.80" r="2.3" fill="#ff0000"/>
<circle cx="152.80" cy="598.00" r="2.3" fill="#ff0000"/>
<circle cx="163.40" cy="598.90" r="2.3" fill="#ff0000"/>
<circle cx="158.10" cy="608.80" r="2.3" fill="#ff0000"/>
<circle cx="158.10" cy="617.60" r="2.3" fill="#ff0000"/>
<circle cx="158.10" cy="635.90" r="2.3" fill="#ff0000"/>
<line x1="151.20" y1="601.20" x2="165.00" y2="601.20" stroke="#000" stroke-width="1.3"/>
<line x1="158.10" y1="598.50" x2="158.10" y2="604.90" stroke="#000" stroke-width="1.1"/>
<line x1="154.60" y1="598.50" x2="161.60" y2="598.50" stroke="#000" stroke-width="1.1"/>
<line x1="154.60" y1="604.90" x2="161.60" y2="604.90" stroke="#000" stroke-width="1.1"/>
<line x1="240.20" y1="624.00" x2="255.00" y2="624.00" stroke="#000" stroke-width="1.3"/>
<line x1="247.30" y1="618.50" x2="247.30" y2="630.80" stroke="#000" stroke-width="1.1"/>
<line x1="243.80" y1="618.50" x2="250.80" y2="618.50" stroke="#000" stroke-width="1.1"/>
<line x1="243.80" y1="630.80" x2="250.80" y2="630.80" stroke="#000" stroke-width="1.1"/>
<circle cx="247.30" cy="615.50" r="1.85" fill="#fff" stroke="#000" stroke-width="1.25"/>
<circle cx="247.30" cy="629.70" r="1.85" fill="#fff" stroke="#000" stroke-width="1.25"/>
<circle cx="247.30" cy="633.30" r="1.85" fill="#fff" stroke="#000" stroke-width="1.25"/>
<line x1="261.30" y1="633.30" x2="275.50" y2="633.30" stroke="#000" stroke-width="1.3"/>
<line x1="268.50" y1="629.10" x2="268.50" y2="638.80" stroke="#000" stroke-width="1.1"/>
<line x1="265.00" y1="629.10" x2="272.00" y2="629.10" stroke="#000" stroke-width="1.1"/>
<line x1="265.00" y1="638.80" x2="272.00" y2="638.80" stroke="#000" stroke-width="1.1"/>
<circle cx="268.50" cy="626.10" r="1.85" fill="#fff" stroke="#ff0000" stroke-width="1.25"/>
<circle cx="268.50" cy="636.10" r="1.85" fill="#fff" stroke="#ff0000" stroke-width="1.25"/>
<circle cx="268.50" cy="641.80" r="1.85" fill="#fff" stroke="#ff0000" stroke-width="1.25"/>
<circle cx="291.30" cy="598.60" r="2.3" fill="#000"/>
<circle cx="296.60" cy="598.00" r="2.3" fill="#000"/>
<circle cx="301.90" cy="599.00" r="2.3" fill="#000"/>
<circle cx="293.50" cy="604.30" r="2.3" fill="#000"/>
<circle cx="298.10" cy="600.70" r="2.3" fill="#000"/>
<circle cx="317.80" cy="589.50" r="2.3" fill="#ff0000"/>
<circle cx="312.50" cy="599.50" r="2.3" fill="#ff0000"/>
<circle cx="317.80" cy="600.10" r="2.3" fill="#ff0000"/>
<circle cx="323.10" cy="601.20" r="2.3" fill="#ff0000"/>
<circle cx="317.80" cy="605.80" r="2.3" fill="#ff0000"/>
<line x1="313.60" y1="598.60" x2="325.20" y2="598.60" stroke="#000" stroke-width="1.3"/>
<line x1="317.80" y1="595.90" x2="317.80" y2="601.00" stroke="#000" stroke-width="1.1"/>
<line x1="314.30" y1="595.90" x2="321.30" y2="595.90" stroke="#000" stroke-width="1.1"/>
<line x1="314.30" y1="601.00" x2="321.30" y2="601.00" stroke="#000" stroke-width="1.1"/>
<line x1="416.60" y1="600.80" x2="430.00" y2="600.80" stroke="#000" stroke-width="1.3"/>
<line x1="423.60" y1="598.70" x2="423.60" y2="603.60" stroke="#000" stroke-width="1.1"/>
<line x1="420.10" y1="598.70" x2="427.10" y2="598.70" stroke="#000" stroke-width="1.1"/>
<line x1="420.10" y1="603.60" x2="427.10" y2="603.60" stroke="#000" stroke-width="1.1"/>
<circle cx="418.10" cy="597.80" r="1.85" fill="#fff" stroke="#000" stroke-width="1.25"/>
<circle cx="428.70" cy="600.80" r="1.85" fill="#fff" stroke="#000" stroke-width="1.25"/>
<circle cx="423.60" cy="607.20" r="1.85" fill="#fff" stroke="#000" stroke-width="1.25"/>
<line x1="437.80" y1="607.80" x2="452.00" y2="607.80" stroke="#000" stroke-width="1.3"/>
<line x1="444.80" y1="604.60" x2="444.80" y2="611.40" stroke="#000" stroke-width="1.1"/>
<line x1="441.30" y1="604.60" x2="448.30" y2="604.60" stroke="#000" stroke-width="1.1"/>
<line x1="441.30" y1="611.40" x2="448.30" y2="611.40" stroke="#000" stroke-width="1.1"/>
<circle cx="439.30" cy="602.50" r="1.85" fill="#fff" stroke="#ff0000" stroke-width="1.25"/>
<circle cx="450.50" cy="604.60" r="1.85" fill="#fff" stroke="#ff0000" stroke-width="1.25"/>
<circle cx="444.80" cy="616.90" r="1.85" fill="#fff" stroke="#ff0000" stroke-width="1.25"/>
<circle cx="473.10" cy="595.10" r="2.3" fill="#000"/>
<circle cx="468.00" cy="602.10" r="2.3" fill="#000"/>
<circle cx="473.10" cy="602.10" r="2.3" fill="#000"/>
<circle cx="478.60" cy="604.60" r="2.3" fill="#000"/>
<circle cx="473.10" cy="609.90" r="2.3" fill="#000"/>
<line x1="467.00" y1="602.50" x2="480.00" y2="602.50" stroke="#000" stroke-width="1.3"/>
<circle cx="494.30" cy="587.30" r="2.3" fill="#ff0000"/>
<circle cx="489.20" cy="600.00" r="2.3" fill="#ff0000"/>
<circle cx="494.30" cy="600.00" r="2.3" fill="#ff0000"/>
<circle cx="499.80" cy="600.80" r="2.3" fill="#ff0000"/>
<circle cx="494.30" cy="612.00" r="2.3" fill="#ff0000"/>
<line x1="490.70" y1="597.80" x2="501.90" y2="597.80" stroke="#000" stroke-width="1.3"/>
<line x1="494.30" y1="595.70" x2="494.30" y2="600.00" stroke="#000" stroke-width="1.1"/>
<line x1="490.80" y1="595.70" x2="497.80" y2="595.70" stroke="#000" stroke-width="1.1"/>
<line x1="490.80" y1="600.00" x2="497.80" y2="600.00" stroke="#000" stroke-width="1.1"/>
</svg>
</body></html>
